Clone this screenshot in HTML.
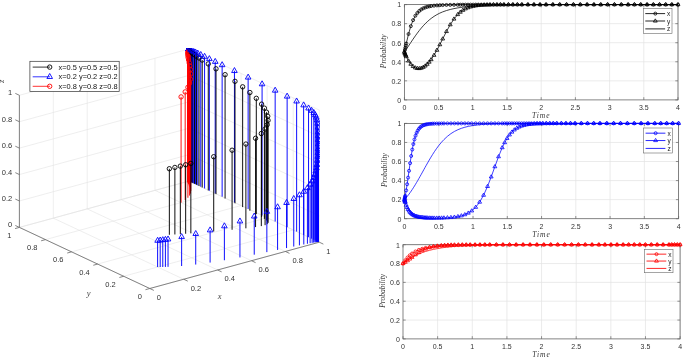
<!DOCTYPE html>
<html><head><meta charset="utf-8"><title>Figure</title>
<style>html,body{margin:0;padding:0;background:#fff;}body{width:685px;height:358px;overflow:hidden}</style>
</head><body>
<svg width="685" height="358" viewBox="0 0 685 358" style="display:block">
<line x1="149.8" y1="288.5" x2="19.4" y2="227.4" stroke="#e3e3e3" stroke-width="0.6" />
<line x1="149.8" y1="288.5" x2="319.3" y2="242.2" stroke="#e3e3e3" stroke-width="0.6" />
<line x1="19.4" y1="227.4" x2="19.4" y2="95.3" stroke="#e3e3e3" stroke-width="0.6" />
<line x1="19.4" y1="227.4" x2="188.9" y2="181.1" stroke="#e3e3e3" stroke-width="0.6" />
<line x1="319.3" y1="242.2" x2="319.3" y2="110.1" stroke="#e3e3e3" stroke-width="0.6" />
<line x1="319.3" y1="242.2" x2="188.9" y2="181.1" stroke="#e3e3e3" stroke-width="0.6" />
<line x1="183.7" y1="279.24" x2="53.3" y2="218.14" stroke="#e3e3e3" stroke-width="0.6" />
<line x1="123.72" y1="276.28" x2="293.22" y2="229.98" stroke="#e3e3e3" stroke-width="0.6" />
<line x1="53.3" y1="218.14" x2="53.3" y2="86.04" stroke="#e3e3e3" stroke-width="0.6" />
<line x1="19.4" y1="200.98" x2="188.9" y2="154.68" stroke="#e3e3e3" stroke-width="0.6" />
<line x1="293.22" y1="229.98" x2="293.22" y2="97.88" stroke="#e3e3e3" stroke-width="0.6" />
<line x1="319.3" y1="215.78" x2="188.9" y2="154.68" stroke="#e3e3e3" stroke-width="0.6" />
<line x1="217.6" y1="269.98" x2="87.2" y2="208.88" stroke="#e3e3e3" stroke-width="0.6" />
<line x1="97.64" y1="264.06" x2="267.14" y2="217.76" stroke="#e3e3e3" stroke-width="0.6" />
<line x1="87.2" y1="208.88" x2="87.2" y2="76.78" stroke="#e3e3e3" stroke-width="0.6" />
<line x1="19.4" y1="174.56" x2="188.9" y2="128.26" stroke="#e3e3e3" stroke-width="0.6" />
<line x1="267.14" y1="217.76" x2="267.14" y2="85.66" stroke="#e3e3e3" stroke-width="0.6" />
<line x1="319.3" y1="189.36" x2="188.9" y2="128.26" stroke="#e3e3e3" stroke-width="0.6" />
<line x1="251.5" y1="260.72" x2="121.1" y2="199.62" stroke="#e3e3e3" stroke-width="0.6" />
<line x1="71.56" y1="251.84" x2="241.06" y2="205.54" stroke="#e3e3e3" stroke-width="0.6" />
<line x1="121.1" y1="199.62" x2="121.1" y2="67.52" stroke="#e3e3e3" stroke-width="0.6" />
<line x1="19.4" y1="148.14" x2="188.9" y2="101.84" stroke="#e3e3e3" stroke-width="0.6" />
<line x1="241.06" y1="205.54" x2="241.06" y2="73.44" stroke="#e3e3e3" stroke-width="0.6" />
<line x1="319.3" y1="162.94" x2="188.9" y2="101.84" stroke="#e3e3e3" stroke-width="0.6" />
<line x1="285.4" y1="251.46" x2="155" y2="190.36" stroke="#e3e3e3" stroke-width="0.6" />
<line x1="45.48" y1="239.62" x2="214.98" y2="193.32" stroke="#e3e3e3" stroke-width="0.6" />
<line x1="155" y1="190.36" x2="155" y2="58.26" stroke="#e3e3e3" stroke-width="0.6" />
<line x1="19.4" y1="121.72" x2="188.9" y2="75.42" stroke="#e3e3e3" stroke-width="0.6" />
<line x1="214.98" y1="193.32" x2="214.98" y2="61.22" stroke="#e3e3e3" stroke-width="0.6" />
<line x1="319.3" y1="136.52" x2="188.9" y2="75.42" stroke="#e3e3e3" stroke-width="0.6" />
<line x1="319.3" y1="242.2" x2="188.9" y2="181.1" stroke="#e3e3e3" stroke-width="0.6" />
<line x1="19.4" y1="227.4" x2="188.9" y2="181.1" stroke="#e3e3e3" stroke-width="0.6" />
<line x1="188.9" y1="181.1" x2="188.9" y2="49" stroke="#e3e3e3" stroke-width="0.6" />
<line x1="19.4" y1="95.3" x2="188.9" y2="49" stroke="#e3e3e3" stroke-width="0.6" />
<line x1="188.9" y1="181.1" x2="188.9" y2="49" stroke="#e3e3e3" stroke-width="0.6" />
<line x1="319.3" y1="110.1" x2="188.9" y2="49" stroke="#e3e3e3" stroke-width="0.6" />
<clipPath id="c3"><rect x="19" y="48.5" width="301" height="242"/></clipPath><g clip-path="url(#c3)">
<line x1="188.3" y1="181.37" x2="188.3" y2="51.29" stroke="#ff0000" stroke-width="0.95" />
<circle cx="188.3" cy="51.29" r="2.2" fill="none" stroke="#ff0000" stroke-width="0.9"/>
<line x1="188.39" y1="181.3" x2="188.39" y2="50.87" stroke="#ff0000" stroke-width="0.95" />
<circle cx="188.39" cy="50.87" r="2.2" fill="none" stroke="#ff0000" stroke-width="0.9"/>
<line x1="188.49" y1="181.25" x2="188.49" y2="50.54" stroke="#ff0000" stroke-width="0.95" />
<circle cx="188.49" cy="50.54" r="2.2" fill="none" stroke="#ff0000" stroke-width="0.9"/>
<line x1="188.56" y1="181.22" x2="188.56" y2="50.27" stroke="#ff0000" stroke-width="0.95" />
<circle cx="188.56" cy="50.27" r="2.2" fill="none" stroke="#ff0000" stroke-width="0.9"/>
<line x1="188.63" y1="181.19" x2="188.63" y2="49.99" stroke="#ff0000" stroke-width="0.95" />
<circle cx="188.63" cy="49.99" r="2.2" fill="none" stroke="#ff0000" stroke-width="0.9"/>
<line x1="188.69" y1="181.16" x2="188.69" y2="49.77" stroke="#ff0000" stroke-width="0.95" />
<circle cx="188.69" cy="49.77" r="2.2" fill="none" stroke="#ff0000" stroke-width="0.9"/>
<line x1="188.74" y1="181.15" x2="188.74" y2="49.61" stroke="#ff0000" stroke-width="0.95" />
<circle cx="188.74" cy="49.61" r="2.2" fill="none" stroke="#ff0000" stroke-width="0.9"/>
<line x1="188.79" y1="181.14" x2="188.79" y2="49.48" stroke="#ff0000" stroke-width="0.95" />
<circle cx="188.79" cy="49.48" r="2.2" fill="none" stroke="#ff0000" stroke-width="0.9"/>
<line x1="188.81" y1="181.12" x2="188.81" y2="49.34" stroke="#ff0000" stroke-width="0.95" />
<circle cx="188.81" cy="49.34" r="2.2" fill="none" stroke="#ff0000" stroke-width="0.9"/>
<line x1="188.83" y1="181.11" x2="188.83" y2="49.24" stroke="#ff0000" stroke-width="0.95" />
<circle cx="188.83" cy="49.24" r="2.2" fill="none" stroke="#ff0000" stroke-width="0.9"/>
<line x1="188.86" y1="181.11" x2="188.86" y2="49.18" stroke="#ff0000" stroke-width="0.95" />
<circle cx="188.86" cy="49.18" r="2.2" fill="none" stroke="#ff0000" stroke-width="0.9"/>
<line x1="188.88" y1="181.11" x2="188.88" y2="49.14" stroke="#ff0000" stroke-width="0.95" />
<circle cx="188.88" cy="49.14" r="2.2" fill="none" stroke="#ff0000" stroke-width="0.9"/>
<line x1="188.87" y1="181.1" x2="188.87" y2="49.09" stroke="#ff0000" stroke-width="0.95" />
<circle cx="188.87" cy="49.09" r="2.2" fill="none" stroke="#ff0000" stroke-width="0.9"/>
<line x1="188.87" y1="181.1" x2="188.87" y2="49.06" stroke="#ff0000" stroke-width="0.95" />
<circle cx="188.87" cy="49.06" r="2.2" fill="none" stroke="#ff0000" stroke-width="0.9"/>
<line x1="188.9" y1="181.11" x2="188.9" y2="49.05" stroke="#ff0000" stroke-width="0.95" />
<circle cx="188.9" cy="49.05" r="2.2" fill="none" stroke="#ff0000" stroke-width="0.9"/>
<line x1="188.92" y1="181.11" x2="188.92" y2="49.05" stroke="#ff0000" stroke-width="0.95" />
<circle cx="188.92" cy="49.05" r="2.2" fill="none" stroke="#ff0000" stroke-width="0.9"/>
<line x1="188.88" y1="181.09" x2="188.88" y2="49.02" stroke="#ff0000" stroke-width="0.95" />
<circle cx="188.88" cy="49.02" r="2.2" fill="none" stroke="#ff0000" stroke-width="0.9"/>
<line x1="188.87" y1="181.09" x2="188.87" y2="49" stroke="#ff0000" stroke-width="0.95" />
<circle cx="188.87" cy="49" r="2.2" fill="none" stroke="#ff0000" stroke-width="0.9"/>
<line x1="188.91" y1="181.11" x2="188.91" y2="49.02" stroke="#ff0000" stroke-width="0.95" />
<circle cx="188.91" cy="49.02" r="2.2" fill="none" stroke="#ff0000" stroke-width="0.9"/>
<line x1="188.94" y1="181.12" x2="188.94" y2="49.03" stroke="#ff0000" stroke-width="0.95" />
<circle cx="188.94" cy="49.03" r="2.2" fill="none" stroke="#ff0000" stroke-width="0.9"/>
<line x1="188.87" y1="181.09" x2="188.87" y2="48.99" stroke="#ff0000" stroke-width="0.95" />
<circle cx="188.87" cy="48.99" r="2.2" fill="none" stroke="#ff0000" stroke-width="0.9"/>
<line x1="188.85" y1="181.08" x2="188.85" y2="48.98" stroke="#ff0000" stroke-width="0.95" />
<circle cx="188.85" cy="48.98" r="2.2" fill="none" stroke="#ff0000" stroke-width="0.9"/>
<line x1="188.93" y1="181.11" x2="188.93" y2="49.02" stroke="#ff0000" stroke-width="0.95" />
<circle cx="188.93" cy="49.02" r="2.2" fill="none" stroke="#ff0000" stroke-width="0.9"/>
<line x1="188.97" y1="181.13" x2="188.97" y2="49.04" stroke="#ff0000" stroke-width="0.95" />
<circle cx="188.97" cy="49.04" r="2.2" fill="none" stroke="#ff0000" stroke-width="0.9"/>
<line x1="188.89" y1="181.1" x2="188.89" y2="49" stroke="#ff0000" stroke-width="0.95" />
<circle cx="188.89" cy="49" r="2.2" fill="none" stroke="#ff0000" stroke-width="0.9"/>
<line x1="188.87" y1="181.09" x2="188.87" y2="48.99" stroke="#ff0000" stroke-width="0.95" />
<circle cx="188.87" cy="48.99" r="2.2" fill="none" stroke="#ff0000" stroke-width="0.9"/>
<line x1="188.92" y1="181.11" x2="188.92" y2="49.01" stroke="#ff0000" stroke-width="0.95" />
<circle cx="188.92" cy="49.01" r="2.2" fill="none" stroke="#ff0000" stroke-width="0.9"/>
<line x1="188.96" y1="181.13" x2="188.96" y2="49.03" stroke="#ff0000" stroke-width="0.95" />
<circle cx="188.96" cy="49.03" r="2.2" fill="none" stroke="#ff0000" stroke-width="0.9"/>
<line x1="188.91" y1="181.1" x2="188.91" y2="49.01" stroke="#ff0000" stroke-width="0.95" />
<circle cx="188.91" cy="49.01" r="2.2" fill="none" stroke="#ff0000" stroke-width="0.9"/>
<line x1="188.89" y1="181.1" x2="188.89" y2="49" stroke="#ff0000" stroke-width="0.95" />
<circle cx="188.89" cy="49" r="2.2" fill="none" stroke="#ff0000" stroke-width="0.9"/>
<line x1="188.91" y1="181.11" x2="188.91" y2="49.01" stroke="#ff0000" stroke-width="0.95" />
<circle cx="188.91" cy="49.01" r="2.2" fill="none" stroke="#ff0000" stroke-width="0.9"/>
<line x1="188.93" y1="181.11" x2="188.93" y2="49.01" stroke="#ff0000" stroke-width="0.95" />
<circle cx="188.93" cy="49.01" r="2.2" fill="none" stroke="#ff0000" stroke-width="0.9"/>
<line x1="188.9" y1="181.1" x2="188.9" y2="49" stroke="#ff0000" stroke-width="0.95" />
<circle cx="188.9" cy="49" r="2.2" fill="none" stroke="#ff0000" stroke-width="0.9"/>
<line x1="188.89" y1="181.1" x2="188.89" y2="49" stroke="#ff0000" stroke-width="0.95" />
<circle cx="188.89" cy="49" r="2.2" fill="none" stroke="#ff0000" stroke-width="0.9"/>
<line x1="188.91" y1="181.1" x2="188.91" y2="49" stroke="#ff0000" stroke-width="0.95" />
<circle cx="188.91" cy="49" r="2.2" fill="none" stroke="#ff0000" stroke-width="0.9"/>
<line x1="188.92" y1="181.11" x2="188.92" y2="49.01" stroke="#ff0000" stroke-width="0.95" />
<circle cx="188.92" cy="49.01" r="2.2" fill="none" stroke="#ff0000" stroke-width="0.9"/>
<line x1="188.91" y1="181.11" x2="188.91" y2="49.01" stroke="#ff0000" stroke-width="0.95" />
<circle cx="188.91" cy="49.01" r="2.2" fill="none" stroke="#ff0000" stroke-width="0.9"/>
<line x1="188.91" y1="181.1" x2="188.91" y2="49" stroke="#ff0000" stroke-width="0.95" />
<circle cx="188.91" cy="49" r="2.2" fill="none" stroke="#ff0000" stroke-width="0.9"/>
<line x1="188.91" y1="181.1" x2="188.91" y2="49" stroke="#ff0000" stroke-width="0.95" />
<circle cx="188.91" cy="49" r="2.2" fill="none" stroke="#ff0000" stroke-width="0.9"/>
<line x1="188.9" y1="181.1" x2="188.9" y2="49" stroke="#ff0000" stroke-width="0.95" />
<circle cx="188.9" cy="49" r="2.2" fill="none" stroke="#ff0000" stroke-width="0.9"/>
<line x1="189.41" y1="181.38" x2="189.41" y2="50.53" stroke="#000000" stroke-width="0.95" />
<circle cx="189.41" cy="50.53" r="2.2" fill="none" stroke="#000000" stroke-width="0.9"/>
<line x1="189.25" y1="181.3" x2="189.25" y2="50.29" stroke="#000000" stroke-width="0.95" />
<circle cx="189.25" cy="50.29" r="2.2" fill="none" stroke="#000000" stroke-width="0.9"/>
<line x1="189.14" y1="181.24" x2="189.14" y2="50.08" stroke="#000000" stroke-width="0.95" />
<circle cx="189.14" cy="50.08" r="2.2" fill="none" stroke="#000000" stroke-width="0.9"/>
<line x1="189.04" y1="181.19" x2="189.04" y2="49.88" stroke="#000000" stroke-width="0.95" />
<circle cx="189.04" cy="49.88" r="2.2" fill="none" stroke="#000000" stroke-width="0.9"/>
<line x1="188.98" y1="181.16" x2="188.98" y2="49.73" stroke="#000000" stroke-width="0.95" />
<circle cx="188.98" cy="49.73" r="2.2" fill="none" stroke="#000000" stroke-width="0.9"/>
<line x1="188.95" y1="181.14" x2="188.95" y2="49.6" stroke="#000000" stroke-width="0.95" />
<circle cx="188.95" cy="49.6" r="2.2" fill="none" stroke="#000000" stroke-width="0.9"/>
<line x1="188.93" y1="181.13" x2="188.93" y2="49.5" stroke="#000000" stroke-width="0.95" />
<circle cx="188.93" cy="49.5" r="2.2" fill="none" stroke="#000000" stroke-width="0.9"/>
<line x1="188.91" y1="181.11" x2="188.91" y2="49.4" stroke="#000000" stroke-width="0.95" />
<circle cx="188.91" cy="49.4" r="2.2" fill="none" stroke="#000000" stroke-width="0.9"/>
<line x1="188.9" y1="181.11" x2="188.9" y2="49.31" stroke="#000000" stroke-width="0.95" />
<circle cx="188.9" cy="49.31" r="2.2" fill="none" stroke="#000000" stroke-width="0.9"/>
<line x1="188.9" y1="181.11" x2="188.9" y2="49.25" stroke="#000000" stroke-width="0.95" />
<circle cx="188.9" cy="49.25" r="2.2" fill="none" stroke="#000000" stroke-width="0.9"/>
<line x1="188.9" y1="181.11" x2="188.9" y2="49.2" stroke="#000000" stroke-width="0.95" />
<circle cx="188.9" cy="49.2" r="2.2" fill="none" stroke="#000000" stroke-width="0.9"/>
<line x1="188.89" y1="181.1" x2="188.89" y2="49.15" stroke="#000000" stroke-width="0.95" />
<circle cx="188.89" cy="49.15" r="2.2" fill="none" stroke="#000000" stroke-width="0.9"/>
<line x1="188.89" y1="181.1" x2="188.89" y2="49.11" stroke="#000000" stroke-width="0.95" />
<circle cx="188.89" cy="49.11" r="2.2" fill="none" stroke="#000000" stroke-width="0.9"/>
<line x1="188.9" y1="181.1" x2="188.9" y2="49.08" stroke="#000000" stroke-width="0.95" />
<circle cx="188.9" cy="49.08" r="2.2" fill="none" stroke="#000000" stroke-width="0.9"/>
<line x1="188.91" y1="181.1" x2="188.91" y2="49.06" stroke="#000000" stroke-width="0.95" />
<circle cx="188.91" cy="49.06" r="2.2" fill="none" stroke="#000000" stroke-width="0.9"/>
<line x1="188.89" y1="181.1" x2="188.89" y2="49.04" stroke="#000000" stroke-width="0.95" />
<circle cx="188.89" cy="49.04" r="2.2" fill="none" stroke="#000000" stroke-width="0.9"/>
<line x1="188.89" y1="181.1" x2="188.89" y2="49.03" stroke="#000000" stroke-width="0.95" />
<circle cx="188.89" cy="49.03" r="2.2" fill="none" stroke="#000000" stroke-width="0.9"/>
<line x1="188.91" y1="181.1" x2="188.91" y2="49.02" stroke="#000000" stroke-width="0.95" />
<circle cx="188.91" cy="49.02" r="2.2" fill="none" stroke="#000000" stroke-width="0.9"/>
<line x1="188.91" y1="181.11" x2="188.91" y2="49.02" stroke="#000000" stroke-width="0.95" />
<circle cx="188.91" cy="49.02" r="2.2" fill="none" stroke="#000000" stroke-width="0.9"/>
<line x1="188.89" y1="181.09" x2="188.89" y2="49.01" stroke="#000000" stroke-width="0.95" />
<circle cx="188.89" cy="49.01" r="2.2" fill="none" stroke="#000000" stroke-width="0.9"/>
<line x1="188.88" y1="181.09" x2="188.88" y2="49" stroke="#000000" stroke-width="0.95" />
<circle cx="188.88" cy="49" r="2.2" fill="none" stroke="#000000" stroke-width="0.9"/>
<line x1="188.91" y1="181.11" x2="188.91" y2="49.01" stroke="#000000" stroke-width="0.95" />
<circle cx="188.91" cy="49.01" r="2.2" fill="none" stroke="#000000" stroke-width="0.9"/>
<line x1="188.93" y1="181.11" x2="188.93" y2="49.02" stroke="#000000" stroke-width="0.95" />
<circle cx="188.93" cy="49.02" r="2.2" fill="none" stroke="#000000" stroke-width="0.9"/>
<line x1="188.88" y1="181.09" x2="188.88" y2="48.99" stroke="#000000" stroke-width="0.95" />
<circle cx="188.88" cy="48.99" r="2.2" fill="none" stroke="#000000" stroke-width="0.9"/>
<line x1="188.86" y1="181.08" x2="188.86" y2="48.99" stroke="#000000" stroke-width="0.95" />
<circle cx="188.86" cy="48.99" r="2.2" fill="none" stroke="#000000" stroke-width="0.9"/>
<line x1="188.92" y1="181.11" x2="188.92" y2="49.01" stroke="#000000" stroke-width="0.95" />
<circle cx="188.92" cy="49.01" r="2.2" fill="none" stroke="#000000" stroke-width="0.9"/>
<line x1="188.95" y1="181.12" x2="188.95" y2="49.02" stroke="#000000" stroke-width="0.95" />
<circle cx="188.95" cy="49.02" r="2.2" fill="none" stroke="#000000" stroke-width="0.9"/>
<line x1="188.89" y1="181.09" x2="188.89" y2="48.99" stroke="#000000" stroke-width="0.95" />
<circle cx="188.89" cy="48.99" r="2.2" fill="none" stroke="#000000" stroke-width="0.9"/>
<line x1="188.86" y1="181.08" x2="188.86" y2="48.98" stroke="#000000" stroke-width="0.95" />
<circle cx="188.86" cy="48.98" r="2.2" fill="none" stroke="#000000" stroke-width="0.9"/>
<line x1="188.92" y1="181.11" x2="188.92" y2="49.01" stroke="#000000" stroke-width="0.95" />
<circle cx="188.92" cy="49.01" r="2.2" fill="none" stroke="#000000" stroke-width="0.9"/>
<line x1="188.96" y1="181.13" x2="188.96" y2="49.03" stroke="#000000" stroke-width="0.95" />
<circle cx="188.96" cy="49.03" r="2.2" fill="none" stroke="#000000" stroke-width="0.9"/>
<line x1="188.89" y1="181.1" x2="188.89" y2="49" stroke="#000000" stroke-width="0.95" />
<circle cx="188.89" cy="49" r="2.2" fill="none" stroke="#000000" stroke-width="0.9"/>
<line x1="188.87" y1="181.08" x2="188.87" y2="48.99" stroke="#000000" stroke-width="0.95" />
<circle cx="188.87" cy="48.99" r="2.2" fill="none" stroke="#000000" stroke-width="0.9"/>
<line x1="188.92" y1="181.11" x2="188.92" y2="49.01" stroke="#000000" stroke-width="0.95" />
<circle cx="188.92" cy="49.01" r="2.2" fill="none" stroke="#000000" stroke-width="0.9"/>
<line x1="188.95" y1="181.13" x2="188.95" y2="49.03" stroke="#000000" stroke-width="0.95" />
<circle cx="188.95" cy="49.03" r="2.2" fill="none" stroke="#000000" stroke-width="0.9"/>
<line x1="189.37" y1="181.32" x2="189.37" y2="49.3" stroke="#0000ff" stroke-width="0.95" />
<polygon points="189.37,45.96 186.57,50.96 192.17,50.96" fill="none" stroke="#0000ff" stroke-width="0.9" stroke-linejoin="miter"/>
<line x1="189.23" y1="181.25" x2="189.23" y2="49.22" stroke="#0000ff" stroke-width="0.95" />
<polygon points="189.23,45.89 186.43,50.89 192.03,50.89" fill="none" stroke="#0000ff" stroke-width="0.9" stroke-linejoin="miter"/>
<line x1="189.13" y1="181.21" x2="189.13" y2="49.16" stroke="#0000ff" stroke-width="0.95" />
<polygon points="189.13,45.83 186.33,50.83 191.93,50.83" fill="none" stroke="#0000ff" stroke-width="0.9" stroke-linejoin="miter"/>
<line x1="189.04" y1="181.17" x2="189.04" y2="49.11" stroke="#0000ff" stroke-width="0.95" />
<polygon points="189.04,45.78 186.24,50.78 191.84,50.78" fill="none" stroke="#0000ff" stroke-width="0.9" stroke-linejoin="miter"/>
<line x1="188.99" y1="181.14" x2="188.99" y2="49.08" stroke="#0000ff" stroke-width="0.95" />
<polygon points="188.99,45.75 186.19,50.75 191.79,50.75" fill="none" stroke="#0000ff" stroke-width="0.9" stroke-linejoin="miter"/>
<line x1="188.96" y1="181.13" x2="188.96" y2="49.06" stroke="#0000ff" stroke-width="0.95" />
<polygon points="188.96,45.73 186.16,50.73 191.76,50.73" fill="none" stroke="#0000ff" stroke-width="0.9" stroke-linejoin="miter"/>
<line x1="188.94" y1="181.12" x2="188.94" y2="49.05" stroke="#0000ff" stroke-width="0.95" />
<polygon points="188.94,45.71 186.14,50.71 191.74,50.71" fill="none" stroke="#0000ff" stroke-width="0.9" stroke-linejoin="miter"/>
<line x1="188.92" y1="181.11" x2="188.92" y2="49.03" stroke="#0000ff" stroke-width="0.95" />
<polygon points="188.92,45.7 186.12,50.7 191.72,50.7" fill="none" stroke="#0000ff" stroke-width="0.9" stroke-linejoin="miter"/>
<line x1="188.91" y1="181.1" x2="188.91" y2="49.02" stroke="#0000ff" stroke-width="0.95" />
<polygon points="188.91,45.69 186.11,50.69 191.71,50.69" fill="none" stroke="#0000ff" stroke-width="0.9" stroke-linejoin="miter"/>
<line x1="188.91" y1="181.1" x2="188.91" y2="49.02" stroke="#0000ff" stroke-width="0.95" />
<polygon points="188.91,45.68 186.11,50.68 191.71,50.68" fill="none" stroke="#0000ff" stroke-width="0.9" stroke-linejoin="miter"/>
<line x1="188.91" y1="181.1" x2="188.91" y2="49.02" stroke="#0000ff" stroke-width="0.95" />
<polygon points="188.91,45.68 186.11,50.68 191.71,50.68" fill="none" stroke="#0000ff" stroke-width="0.9" stroke-linejoin="miter"/>
<line x1="188.9" y1="181.1" x2="188.9" y2="49.01" stroke="#0000ff" stroke-width="0.95" />
<polygon points="188.9,45.67 186.1,50.67 191.7,50.67" fill="none" stroke="#0000ff" stroke-width="0.9" stroke-linejoin="miter"/>
<line x1="188.89" y1="181.1" x2="188.89" y2="49" stroke="#0000ff" stroke-width="0.95" />
<polygon points="188.89,45.67 186.09,50.67 191.69,50.67" fill="none" stroke="#0000ff" stroke-width="0.9" stroke-linejoin="miter"/>
<line x1="188.9" y1="181.1" x2="188.9" y2="49.01" stroke="#0000ff" stroke-width="0.95" />
<polygon points="188.9,45.67 186.1,50.67 191.7,50.67" fill="none" stroke="#0000ff" stroke-width="0.9" stroke-linejoin="miter"/>
<line x1="188.91" y1="181.1" x2="188.91" y2="49.01" stroke="#0000ff" stroke-width="0.95" />
<polygon points="188.91,45.67 186.11,50.67 191.71,50.67" fill="none" stroke="#0000ff" stroke-width="0.9" stroke-linejoin="miter"/>
<line x1="188.89" y1="181.1" x2="188.89" y2="49" stroke="#0000ff" stroke-width="0.95" />
<polygon points="188.89,45.67 186.09,50.67 191.69,50.67" fill="none" stroke="#0000ff" stroke-width="0.9" stroke-linejoin="miter"/>
<line x1="188.89" y1="181.09" x2="188.89" y2="49" stroke="#0000ff" stroke-width="0.95" />
<polygon points="188.89,45.66 186.09,50.66 191.69,50.66" fill="none" stroke="#0000ff" stroke-width="0.9" stroke-linejoin="miter"/>
<line x1="188.91" y1="181.1" x2="188.91" y2="49" stroke="#0000ff" stroke-width="0.95" />
<polygon points="188.91,45.67 186.11,50.67 191.71,50.67" fill="none" stroke="#0000ff" stroke-width="0.9" stroke-linejoin="miter"/>
<line x1="188.92" y1="181.11" x2="188.92" y2="49.01" stroke="#0000ff" stroke-width="0.95" />
<polygon points="188.92,45.68 186.12,50.68 191.72,50.68" fill="none" stroke="#0000ff" stroke-width="0.9" stroke-linejoin="miter"/>
<line x1="188.89" y1="181.09" x2="188.89" y2="48.99" stroke="#0000ff" stroke-width="0.95" />
<polygon points="188.89,45.66 186.09,50.66 191.69,50.66" fill="none" stroke="#0000ff" stroke-width="0.9" stroke-linejoin="miter"/>
<line x1="188.88" y1="181.09" x2="188.88" y2="48.99" stroke="#0000ff" stroke-width="0.95" />
<polygon points="188.88,45.66 186.08,50.66 191.68,50.66" fill="none" stroke="#0000ff" stroke-width="0.9" stroke-linejoin="miter"/>
<line x1="188.91" y1="181.11" x2="188.91" y2="49.01" stroke="#0000ff" stroke-width="0.95" />
<polygon points="188.91,45.67 186.11,50.67 191.71,50.67" fill="none" stroke="#0000ff" stroke-width="0.9" stroke-linejoin="miter"/>
<line x1="188.93" y1="181.11" x2="188.93" y2="49.01" stroke="#0000ff" stroke-width="0.95" />
<polygon points="188.93,45.68 186.13,50.68 191.73,50.68" fill="none" stroke="#0000ff" stroke-width="0.9" stroke-linejoin="miter"/>
<line x1="188.9" y1="181.1" x2="188.9" y2="49" stroke="#0000ff" stroke-width="0.95" />
<polygon points="188.9,45.67 186.1,50.67 191.7,50.67" fill="none" stroke="#0000ff" stroke-width="0.9" stroke-linejoin="miter"/>
<line x1="188.89" y1="181.09" x2="188.89" y2="48.99" stroke="#0000ff" stroke-width="0.95" />
<polygon points="188.89,45.66 186.09,50.66 191.69,50.66" fill="none" stroke="#0000ff" stroke-width="0.9" stroke-linejoin="miter"/>
<line x1="188.91" y1="181.1" x2="188.91" y2="49" stroke="#0000ff" stroke-width="0.95" />
<polygon points="188.91,45.67 186.11,50.67 191.71,50.67" fill="none" stroke="#0000ff" stroke-width="0.9" stroke-linejoin="miter"/>
<line x1="188.92" y1="181.11" x2="188.92" y2="49.01" stroke="#0000ff" stroke-width="0.95" />
<polygon points="188.92,45.68 186.12,50.68 191.72,50.68" fill="none" stroke="#0000ff" stroke-width="0.9" stroke-linejoin="miter"/>
<line x1="189.59" y1="181.42" x2="189.59" y2="49.41" stroke="#0000ff" stroke-width="0.95" />
<polygon points="189.59,46.08 186.79,51.08 192.39,51.08" fill="none" stroke="#0000ff" stroke-width="0.9" stroke-linejoin="miter"/>
<line x1="188.21" y1="181.47" x2="188.21" y2="51.81" stroke="#ff0000" stroke-width="0.95" />
<circle cx="188.21" cy="51.81" r="2.2" fill="none" stroke="#ff0000" stroke-width="0.9"/>
<line x1="189.66" y1="181.51" x2="189.66" y2="50.85" stroke="#000000" stroke-width="0.95" />
<circle cx="189.66" cy="50.85" r="2.2" fill="none" stroke="#000000" stroke-width="0.9"/>
<line x1="189.91" y1="181.57" x2="189.91" y2="49.57" stroke="#0000ff" stroke-width="0.95" />
<polygon points="189.91,46.24 187.11,51.24 192.71,51.24" fill="none" stroke="#0000ff" stroke-width="0.9" stroke-linejoin="miter"/>
<line x1="188.12" y1="181.57" x2="188.12" y2="52.33" stroke="#ff0000" stroke-width="0.95" />
<circle cx="188.12" cy="52.33" r="2.2" fill="none" stroke="#ff0000" stroke-width="0.9"/>
<line x1="190.03" y1="181.69" x2="190.03" y2="51.25" stroke="#000000" stroke-width="0.95" />
<circle cx="190.03" cy="51.25" r="2.2" fill="none" stroke="#000000" stroke-width="0.9"/>
<line x1="188.04" y1="181.72" x2="188.04" y2="52.95" stroke="#ff0000" stroke-width="0.95" />
<circle cx="188.04" cy="52.95" r="2.2" fill="none" stroke="#ff0000" stroke-width="0.9"/>
<line x1="190.28" y1="181.75" x2="190.28" y2="49.76" stroke="#0000ff" stroke-width="0.95" />
<polygon points="190.28,46.42 187.48,51.42 193.08,51.42" fill="none" stroke="#0000ff" stroke-width="0.9" stroke-linejoin="miter"/>
<line x1="190.47" y1="181.9" x2="190.47" y2="51.69" stroke="#000000" stroke-width="0.95" />
<circle cx="190.47" cy="51.69" r="2.2" fill="none" stroke="#000000" stroke-width="0.9"/>
<line x1="187.99" y1="181.92" x2="187.99" y2="53.72" stroke="#ff0000" stroke-width="0.95" />
<circle cx="187.99" cy="53.72" r="2.2" fill="none" stroke="#ff0000" stroke-width="0.9"/>
<line x1="190.8" y1="181.99" x2="190.8" y2="50.01" stroke="#0000ff" stroke-width="0.95" />
<polygon points="190.8,46.68 188,51.68 193.6,51.68" fill="none" stroke="#0000ff" stroke-width="0.9" stroke-linejoin="miter"/>
<line x1="191.07" y1="182.2" x2="191.07" y2="52.24" stroke="#000000" stroke-width="0.95" />
<circle cx="191.07" cy="52.24" r="2.2" fill="none" stroke="#000000" stroke-width="0.9"/>
<line x1="187.98" y1="182.2" x2="187.98" y2="54.66" stroke="#ff0000" stroke-width="0.95" />
<circle cx="187.98" cy="54.66" r="2.2" fill="none" stroke="#ff0000" stroke-width="0.9"/>
<line x1="191.51" y1="182.32" x2="191.51" y2="50.36" stroke="#0000ff" stroke-width="0.95" />
<polygon points="191.51,47.03 188.71,52.03 194.31,52.03" fill="none" stroke="#0000ff" stroke-width="0.9" stroke-linejoin="miter"/>
<line x1="191.91" y1="182.6" x2="191.91" y2="52.93" stroke="#000000" stroke-width="0.95" />
<circle cx="191.91" cy="52.93" r="2.2" fill="none" stroke="#000000" stroke-width="0.9"/>
<line x1="188.01" y1="182.63" x2="188.01" y2="56.01" stroke="#ff0000" stroke-width="0.95" />
<circle cx="188.01" cy="56.01" r="2.2" fill="none" stroke="#ff0000" stroke-width="0.9"/>
<line x1="192.48" y1="182.78" x2="192.48" y2="50.84" stroke="#0000ff" stroke-width="0.95" />
<polygon points="192.48,47.51 189.68,52.51 195.28,52.51" fill="none" stroke="#0000ff" stroke-width="0.9" stroke-linejoin="miter"/>
<line x1="193.03" y1="183.14" x2="193.03" y2="53.81" stroke="#000000" stroke-width="0.95" />
<circle cx="193.03" cy="53.81" r="2.2" fill="none" stroke="#000000" stroke-width="0.9"/>
<line x1="188.18" y1="183.26" x2="188.18" y2="57.74" stroke="#ff0000" stroke-width="0.95" />
<circle cx="188.18" cy="57.74" r="2.2" fill="none" stroke="#ff0000" stroke-width="0.9"/>
<line x1="193.77" y1="183.38" x2="193.77" y2="51.46" stroke="#0000ff" stroke-width="0.95" />
<polygon points="193.77,48.13 190.97,53.13 196.57,53.13" fill="none" stroke="#0000ff" stroke-width="0.9" stroke-linejoin="miter"/>
<line x1="194.51" y1="183.86" x2="194.51" y2="54.89" stroke="#000000" stroke-width="0.95" />
<circle cx="194.51" cy="54.89" r="2.2" fill="none" stroke="#000000" stroke-width="0.9"/>
<line x1="195.49" y1="184.19" x2="195.49" y2="52.29" stroke="#0000ff" stroke-width="0.95" />
<polygon points="195.49,48.96 192.69,53.96 198.29,53.96" fill="none" stroke="#0000ff" stroke-width="0.9" stroke-linejoin="miter"/>
<line x1="188.57" y1="184.19" x2="188.57" y2="59.99" stroke="#ff0000" stroke-width="0.95" />
<circle cx="188.57" cy="59.99" r="2.2" fill="none" stroke="#ff0000" stroke-width="0.9"/>
<line x1="196.47" y1="184.8" x2="196.47" y2="56.26" stroke="#000000" stroke-width="0.95" />
<circle cx="196.47" cy="56.26" r="2.2" fill="none" stroke="#000000" stroke-width="0.9"/>
<line x1="197.79" y1="185.26" x2="197.79" y2="53.39" stroke="#0000ff" stroke-width="0.95" />
<polygon points="197.79,50.06 194.99,55.06 200.59,55.06" fill="none" stroke="#0000ff" stroke-width="0.9" stroke-linejoin="miter"/>
<line x1="189.17" y1="185.47" x2="189.17" y2="62.84" stroke="#ff0000" stroke-width="0.95" />
<circle cx="189.17" cy="62.84" r="2.2" fill="none" stroke="#ff0000" stroke-width="0.9"/>
<line x1="199" y1="186.01" x2="199" y2="57.96" stroke="#000000" stroke-width="0.95" />
<circle cx="199" cy="57.96" r="2.2" fill="none" stroke="#000000" stroke-width="0.9"/>
<line x1="200.77" y1="186.66" x2="200.77" y2="54.82" stroke="#0000ff" stroke-width="0.95" />
<polygon points="200.77,51.49 197.97,56.49 203.57,56.49" fill="none" stroke="#0000ff" stroke-width="0.9" stroke-linejoin="miter"/>
<line x1="189.79" y1="186.92" x2="189.79" y2="65.9" stroke="#ff0000" stroke-width="0.95" />
<circle cx="189.79" cy="65.9" r="2.2" fill="none" stroke="#ff0000" stroke-width="0.9"/>
<line x1="202.21" y1="187.54" x2="202.21" y2="60.05" stroke="#000000" stroke-width="0.95" />
<circle cx="202.21" cy="60.05" r="2.2" fill="none" stroke="#000000" stroke-width="0.9"/>
<line x1="204.59" y1="188.45" x2="204.59" y2="56.65" stroke="#0000ff" stroke-width="0.95" />
<polygon points="204.59,53.31 201.79,58.31 207.39,58.31" fill="none" stroke="#0000ff" stroke-width="0.9" stroke-linejoin="miter"/>
<line x1="190.41" y1="188.74" x2="190.41" y2="69.6" stroke="#ff0000" stroke-width="0.95" />
<circle cx="190.41" cy="69.6" r="2.2" fill="none" stroke="#ff0000" stroke-width="0.9"/>
<line x1="208.27" y1="190.44" x2="208.27" y2="63.91" stroke="#000000" stroke-width="0.95" />
<circle cx="208.27" cy="63.91" r="2.2" fill="none" stroke="#000000" stroke-width="0.9"/>
<line x1="209.37" y1="190.69" x2="209.37" y2="58.93" stroke="#0000ff" stroke-width="0.95" />
<polygon points="209.37,55.6 206.57,60.6 212.17,60.6" fill="none" stroke="#0000ff" stroke-width="0.9" stroke-linejoin="miter"/>
<line x1="190.77" y1="190.97" x2="190.77" y2="74.01" stroke="#ff0000" stroke-width="0.95" />
<circle cx="190.77" cy="74.01" r="2.2" fill="none" stroke="#ff0000" stroke-width="0.9"/>
<line x1="215.22" y1="193.43" x2="215.22" y2="61.72" stroke="#0000ff" stroke-width="0.95" />
<polygon points="215.22,58.38 212.42,63.38 218.02,63.38" fill="none" stroke="#0000ff" stroke-width="0.9" stroke-linejoin="miter"/>
<line x1="190.46" y1="193.6" x2="190.46" y2="79.18" stroke="#ff0000" stroke-width="0.95" />
<circle cx="190.46" cy="79.18" r="2.2" fill="none" stroke="#ff0000" stroke-width="0.9"/>
<line x1="216" y1="194.14" x2="216" y2="68.81" stroke="#000000" stroke-width="0.95" />
<circle cx="216" cy="68.81" r="2.2" fill="none" stroke="#000000" stroke-width="0.9"/>
<line x1="189.59" y1="195.59" x2="189.59" y2="83.06" stroke="#ff0000" stroke-width="0.95" />
<circle cx="189.59" cy="83.06" r="2.2" fill="none" stroke="#ff0000" stroke-width="0.9"/>
<line x1="222.14" y1="196.67" x2="222.14" y2="65.01" stroke="#0000ff" stroke-width="0.95" />
<polygon points="222.14,61.68 219.34,66.68 224.94,66.68" fill="none" stroke="#0000ff" stroke-width="0.9" stroke-linejoin="miter"/>
<line x1="187.92" y1="197.75" x2="187.92" y2="87.31" stroke="#ff0000" stroke-width="0.95" />
<circle cx="187.92" cy="87.31" r="2.2" fill="none" stroke="#ff0000" stroke-width="0.9"/>
<line x1="225.09" y1="198.52" x2="225.09" y2="74.67" stroke="#000000" stroke-width="0.95" />
<circle cx="225.09" cy="74.67" r="2.2" fill="none" stroke="#000000" stroke-width="0.9"/>
<line x1="185.18" y1="200.08" x2="185.18" y2="91.92" stroke="#ff0000" stroke-width="0.95" />
<circle cx="185.18" cy="91.92" r="2.2" fill="none" stroke="#ff0000" stroke-width="0.9"/>
<line x1="234.44" y1="202.44" x2="234.44" y2="70.88" stroke="#0000ff" stroke-width="0.95" />
<polygon points="234.44,67.54 231.64,72.54 237.24,72.54" fill="none" stroke="#0000ff" stroke-width="0.9" stroke-linejoin="miter"/>
<line x1="181.08" y1="202.58" x2="181.08" y2="96.9" stroke="#ff0000" stroke-width="0.95" />
<circle cx="181.08" cy="96.9" r="2.2" fill="none" stroke="#ff0000" stroke-width="0.9"/>
<line x1="234.99" y1="203.32" x2="234.99" y2="81.33" stroke="#000000" stroke-width="0.95" />
<circle cx="234.99" cy="81.33" r="2.2" fill="none" stroke="#000000" stroke-width="0.9"/>
<line x1="242.65" y1="207.09" x2="242.65" y2="86.84" stroke="#000000" stroke-width="0.95" />
<circle cx="242.65" cy="86.84" r="2.2" fill="none" stroke="#000000" stroke-width="0.9"/>
<line x1="248.13" y1="208.85" x2="248.13" y2="77.42" stroke="#0000ff" stroke-width="0.95" />
<polygon points="248.13,74.09 245.33,79.09 250.93,79.09" fill="none" stroke="#0000ff" stroke-width="0.9" stroke-linejoin="miter"/>
<line x1="249.88" y1="210.72" x2="249.88" y2="92.53" stroke="#000000" stroke-width="0.95" />
<circle cx="249.88" cy="92.53" r="2.2" fill="none" stroke="#000000" stroke-width="0.9"/>
<line x1="256.3" y1="214.08" x2="256.3" y2="98.32" stroke="#000000" stroke-width="0.95" />
<circle cx="256.3" cy="98.32" r="2.2" fill="none" stroke="#000000" stroke-width="0.9"/>
<line x1="262.08" y1="215.39" x2="262.08" y2="84.14" stroke="#0000ff" stroke-width="0.95" />
<polygon points="262.08,80.8 259.28,85.8 264.88,85.8" fill="none" stroke="#0000ff" stroke-width="0.9" stroke-linejoin="miter"/>
<line x1="261.58" y1="217.06" x2="261.58" y2="104.15" stroke="#000000" stroke-width="0.95" />
<circle cx="261.58" cy="104.15" r="2.2" fill="none" stroke="#000000" stroke-width="0.9"/>
<line x1="264.4" y1="218.85" x2="264.4" y2="108.15" stroke="#000000" stroke-width="0.95" />
<circle cx="264.4" cy="108.15" r="2.2" fill="none" stroke="#000000" stroke-width="0.9"/>
<line x1="266.48" y1="220.44" x2="266.48" y2="112.18" stroke="#000000" stroke-width="0.95" />
<circle cx="266.48" cy="112.18" r="2.2" fill="none" stroke="#000000" stroke-width="0.9"/>
<line x1="275.16" y1="221.52" x2="275.16" y2="90.49" stroke="#0000ff" stroke-width="0.95" />
<polygon points="275.16,87.16 272.36,92.16 277.96,92.16" fill="none" stroke="#0000ff" stroke-width="0.9" stroke-linejoin="miter"/>
<line x1="267.74" y1="221.84" x2="267.74" y2="116.25" stroke="#000000" stroke-width="0.95" />
<circle cx="267.74" cy="116.25" r="2.2" fill="none" stroke="#000000" stroke-width="0.9"/>
<line x1="268.04" y1="223.08" x2="268.04" y2="120.39" stroke="#000000" stroke-width="0.95" />
<circle cx="268.04" cy="120.39" r="2.2" fill="none" stroke="#000000" stroke-width="0.9"/>
<line x1="267.23" y1="224.17" x2="267.23" y2="124.63" stroke="#000000" stroke-width="0.95" />
<circle cx="267.23" cy="124.63" r="2.2" fill="none" stroke="#000000" stroke-width="0.9"/>
<line x1="265.09" y1="225.17" x2="265.09" y2="129" stroke="#000000" stroke-width="0.95" />
<circle cx="265.09" cy="129" r="2.2" fill="none" stroke="#000000" stroke-width="0.9"/>
<line x1="261.32" y1="226.12" x2="261.32" y2="133.54" stroke="#000000" stroke-width="0.95" />
<circle cx="261.32" cy="133.54" r="2.2" fill="none" stroke="#000000" stroke-width="0.9"/>
<line x1="287.14" y1="227.13" x2="287.14" y2="96.43" stroke="#0000ff" stroke-width="0.95" />
<polygon points="287.14,93.1 284.34,98.1 289.94,98.1" fill="none" stroke="#0000ff" stroke-width="0.9" stroke-linejoin="miter"/>
<line x1="255.57" y1="227.09" x2="255.57" y2="138.28" stroke="#000000" stroke-width="0.95" />
<circle cx="255.57" cy="138.28" r="2.2" fill="none" stroke="#000000" stroke-width="0.9"/>
<line x1="245.88" y1="228.32" x2="245.88" y2="144.05" stroke="#000000" stroke-width="0.95" />
<circle cx="245.88" cy="144.05" r="2.2" fill="none" stroke="#000000" stroke-width="0.9"/>
<line x1="232.09" y1="229.78" x2="232.09" y2="150.22" stroke="#000000" stroke-width="0.95" />
<circle cx="232.09" cy="150.22" r="2.2" fill="none" stroke="#000000" stroke-width="0.9"/>
<line x1="296.63" y1="231.58" x2="296.63" y2="101.31" stroke="#0000ff" stroke-width="0.95" />
<polygon points="296.63,97.98 293.83,102.98 299.43,102.98" fill="none" stroke="#0000ff" stroke-width="0.9" stroke-linejoin="miter"/>
<line x1="213.71" y1="231.51" x2="213.71" y2="156.74" stroke="#000000" stroke-width="0.95" />
<circle cx="213.71" cy="156.74" r="2.2" fill="none" stroke="#000000" stroke-width="0.9"/>
<line x1="190.85" y1="233.37" x2="190.85" y2="163.41" stroke="#000000" stroke-width="0.95" />
<circle cx="190.85" cy="163.41" r="2.2" fill="none" stroke="#000000" stroke-width="0.9"/>
<line x1="185.66" y1="233.75" x2="185.66" y2="164.77" stroke="#000000" stroke-width="0.95" />
<circle cx="185.66" cy="164.77" r="2.2" fill="none" stroke="#000000" stroke-width="0.9"/>
<line x1="180.34" y1="234.11" x2="180.34" y2="166.12" stroke="#000000" stroke-width="0.95" />
<circle cx="180.34" cy="166.12" r="2.2" fill="none" stroke="#000000" stroke-width="0.9"/>
<line x1="174.89" y1="234.47" x2="174.89" y2="167.44" stroke="#000000" stroke-width="0.95" />
<circle cx="174.89" cy="167.44" r="2.2" fill="none" stroke="#000000" stroke-width="0.9"/>
<line x1="303.63" y1="234.86" x2="303.63" y2="105.2" stroke="#0000ff" stroke-width="0.95" />
<polygon points="303.63,101.86 300.83,106.86 306.43,106.86" fill="none" stroke="#0000ff" stroke-width="0.9" stroke-linejoin="miter"/>
<line x1="169.35" y1="234.8" x2="169.35" y2="168.75" stroke="#000000" stroke-width="0.95" />
<circle cx="169.35" cy="168.75" r="2.2" fill="none" stroke="#000000" stroke-width="0.9"/>
<line x1="308.56" y1="237.17" x2="308.56" y2="108.31" stroke="#0000ff" stroke-width="0.95" />
<polygon points="308.56,104.97 305.76,109.97 311.36,109.97" fill="none" stroke="#0000ff" stroke-width="0.9" stroke-linejoin="miter"/>
<line x1="311.61" y1="238.6" x2="311.61" y2="110.65" stroke="#0000ff" stroke-width="0.95" />
<polygon points="311.61,107.32 308.81,112.32 314.41,112.32" fill="none" stroke="#0000ff" stroke-width="0.9" stroke-linejoin="miter"/>
<line x1="313.78" y1="239.62" x2="313.78" y2="112.84" stroke="#0000ff" stroke-width="0.95" />
<polygon points="313.78,109.51 310.98,114.51 316.58,114.51" fill="none" stroke="#0000ff" stroke-width="0.9" stroke-linejoin="miter"/>
<line x1="315.29" y1="240.33" x2="315.29" y2="115.06" stroke="#0000ff" stroke-width="0.95" />
<polygon points="315.29,111.73 312.49,116.73 318.09,116.73" fill="none" stroke="#0000ff" stroke-width="0.9" stroke-linejoin="miter"/>
<line x1="316.35" y1="240.83" x2="316.35" y2="117.46" stroke="#0000ff" stroke-width="0.95" />
<polygon points="316.35,114.13 313.55,119.13 319.15,119.13" fill="none" stroke="#0000ff" stroke-width="0.9" stroke-linejoin="miter"/>
<line x1="317.09" y1="241.18" x2="317.09" y2="120.24" stroke="#0000ff" stroke-width="0.95" />
<polygon points="317.09,116.9 314.29,121.9 319.89,121.9" fill="none" stroke="#0000ff" stroke-width="0.9" stroke-linejoin="miter"/>
<line x1="317.59" y1="241.42" x2="317.59" y2="123.51" stroke="#0000ff" stroke-width="0.95" />
<polygon points="317.59,120.17 314.79,125.17 320.39,125.17" fill="none" stroke="#0000ff" stroke-width="0.9" stroke-linejoin="miter"/>
<line x1="317.91" y1="241.59" x2="317.91" y2="127.41" stroke="#0000ff" stroke-width="0.95" />
<polygon points="317.91,124.08 315.11,129.08 320.71,129.08" fill="none" stroke="#0000ff" stroke-width="0.9" stroke-linejoin="miter"/>
<line x1="318.11" y1="241.71" x2="318.11" y2="132.06" stroke="#0000ff" stroke-width="0.95" />
<polygon points="318.11,128.73 315.31,133.73 320.91,133.73" fill="none" stroke="#0000ff" stroke-width="0.9" stroke-linejoin="miter"/>
<line x1="318.18" y1="241.76" x2="318.18" y2="135.7" stroke="#0000ff" stroke-width="0.95" />
<polygon points="318.18,132.36 315.38,137.36 320.98,137.36" fill="none" stroke="#0000ff" stroke-width="0.9" stroke-linejoin="miter"/>
<line x1="318.2" y1="241.81" x2="318.2" y2="139.74" stroke="#0000ff" stroke-width="0.95" />
<polygon points="318.2,136.4 315.4,141.4 321,141.4" fill="none" stroke="#0000ff" stroke-width="0.9" stroke-linejoin="miter"/>
<line x1="318.16" y1="241.84" x2="318.16" y2="144.18" stroke="#0000ff" stroke-width="0.95" />
<polygon points="318.16,140.85 315.36,145.85 320.96,145.85" fill="none" stroke="#0000ff" stroke-width="0.9" stroke-linejoin="miter"/>
<line x1="318.04" y1="241.88" x2="318.04" y2="149.02" stroke="#0000ff" stroke-width="0.95" />
<polygon points="318.04,145.69 315.24,150.69 320.84,150.69" fill="none" stroke="#0000ff" stroke-width="0.9" stroke-linejoin="miter"/>
<line x1="317.9" y1="241.91" x2="317.9" y2="152.71" stroke="#0000ff" stroke-width="0.95" />
<polygon points="317.9,149.38 315.1,154.38 320.7,154.38" fill="none" stroke="#0000ff" stroke-width="0.9" stroke-linejoin="miter"/>
<line x1="317.69" y1="241.94" x2="317.69" y2="156.59" stroke="#0000ff" stroke-width="0.95" />
<polygon points="317.69,153.25 314.89,158.25 320.49,158.25" fill="none" stroke="#0000ff" stroke-width="0.9" stroke-linejoin="miter"/>
<line x1="317.37" y1="241.99" x2="317.37" y2="160.62" stroke="#0000ff" stroke-width="0.95" />
<polygon points="317.37,157.29 314.57,162.29 320.17,162.29" fill="none" stroke="#0000ff" stroke-width="0.9" stroke-linejoin="miter"/>
<line x1="316.89" y1="242.06" x2="316.89" y2="164.8" stroke="#0000ff" stroke-width="0.95" />
<polygon points="316.89,161.46 314.09,166.46 319.69,166.46" fill="none" stroke="#0000ff" stroke-width="0.9" stroke-linejoin="miter"/>
<line x1="316.4" y1="242.13" x2="316.4" y2="167.99" stroke="#0000ff" stroke-width="0.95" />
<polygon points="316.4,164.66 313.6,169.66 319.2,169.66" fill="none" stroke="#0000ff" stroke-width="0.9" stroke-linejoin="miter"/>
<line x1="315.75" y1="242.23" x2="315.75" y2="171.25" stroke="#0000ff" stroke-width="0.95" />
<polygon points="315.75,167.92 312.95,172.92 318.55,172.92" fill="none" stroke="#0000ff" stroke-width="0.9" stroke-linejoin="miter"/>
<line x1="314.86" y1="242.38" x2="314.86" y2="174.58" stroke="#0000ff" stroke-width="0.95" />
<polygon points="314.86,171.24 312.06,176.24 317.66,176.24" fill="none" stroke="#0000ff" stroke-width="0.9" stroke-linejoin="miter"/>
<line x1="313.65" y1="242.59" x2="313.65" y2="177.97" stroke="#0000ff" stroke-width="0.95" />
<polygon points="313.65,174.64 310.85,179.64 316.45,179.64" fill="none" stroke="#0000ff" stroke-width="0.9" stroke-linejoin="miter"/>
<line x1="312.15" y1="242.86" x2="312.15" y2="181.21" stroke="#0000ff" stroke-width="0.95" />
<polygon points="312.15,177.88 309.35,182.88 314.95,182.88" fill="none" stroke="#0000ff" stroke-width="0.9" stroke-linejoin="miter"/>
<line x1="310.13" y1="243.24" x2="310.13" y2="184.54" stroke="#0000ff" stroke-width="0.95" />
<polygon points="310.13,181.21 307.33,186.21 312.93,186.21" fill="none" stroke="#0000ff" stroke-width="0.9" stroke-linejoin="miter"/>
<line x1="307.42" y1="243.77" x2="307.42" y2="187.99" stroke="#0000ff" stroke-width="0.95" />
<polygon points="307.42,184.65 304.62,189.65 310.22,189.65" fill="none" stroke="#0000ff" stroke-width="0.9" stroke-linejoin="miter"/>
<line x1="303.8" y1="244.49" x2="303.8" y2="191.58" stroke="#0000ff" stroke-width="0.95" />
<polygon points="303.8,188.25 301,193.25 306.6,193.25" fill="none" stroke="#0000ff" stroke-width="0.9" stroke-linejoin="miter"/>
<line x1="299.42" y1="245.38" x2="299.42" y2="195.08" stroke="#0000ff" stroke-width="0.95" />
<polygon points="299.42,191.75 296.62,196.75 302.22,196.75" fill="none" stroke="#0000ff" stroke-width="0.9" stroke-linejoin="miter"/>
<line x1="293.76" y1="246.55" x2="293.76" y2="198.81" stroke="#0000ff" stroke-width="0.95" />
<polygon points="293.76,195.47 290.96,200.47 296.56,200.47" fill="none" stroke="#0000ff" stroke-width="0.9" stroke-linejoin="miter"/>
<line x1="286.56" y1="248.06" x2="286.56" y2="202.8" stroke="#0000ff" stroke-width="0.95" />
<polygon points="286.56,199.47 283.76,204.47 289.36,204.47" fill="none" stroke="#0000ff" stroke-width="0.9" stroke-linejoin="miter"/>
<line x1="277.58" y1="249.93" x2="277.58" y2="207.09" stroke="#0000ff" stroke-width="0.95" />
<polygon points="277.58,203.76 274.78,208.76 280.38,208.76" fill="none" stroke="#0000ff" stroke-width="0.9" stroke-linejoin="miter"/>
<line x1="266.85" y1="252.14" x2="266.85" y2="211.61" stroke="#0000ff" stroke-width="0.95" />
<polygon points="266.85,208.28 264.05,213.28 269.65,213.28" fill="none" stroke="#0000ff" stroke-width="0.9" stroke-linejoin="miter"/>
<line x1="254.24" y1="254.68" x2="254.24" y2="216.38" stroke="#0000ff" stroke-width="0.95" />
<polygon points="254.24,213.04 251.44,218.04 257.04,218.04" fill="none" stroke="#0000ff" stroke-width="0.9" stroke-linejoin="miter"/>
<line x1="239.95" y1="257.44" x2="239.95" y2="221.29" stroke="#0000ff" stroke-width="0.95" />
<polygon points="239.95,217.95 237.15,222.95 242.75,222.95" fill="none" stroke="#0000ff" stroke-width="0.9" stroke-linejoin="miter"/>
<line x1="224.39" y1="260.25" x2="224.39" y2="226.15" stroke="#0000ff" stroke-width="0.95" />
<polygon points="224.39,222.82 221.59,227.82 227.19,227.82" fill="none" stroke="#0000ff" stroke-width="0.9" stroke-linejoin="miter"/>
<line x1="210.1" y1="262.57" x2="210.1" y2="230.21" stroke="#0000ff" stroke-width="0.95" />
<polygon points="210.1,226.88 207.3,231.88 212.9,231.88" fill="none" stroke="#0000ff" stroke-width="0.9" stroke-linejoin="miter"/>
<line x1="195.73" y1="264.55" x2="195.73" y2="233.86" stroke="#0000ff" stroke-width="0.95" />
<polygon points="195.73,230.52 192.93,235.52 198.53,235.52" fill="none" stroke="#0000ff" stroke-width="0.9" stroke-linejoin="miter"/>
<line x1="181.63" y1="266.02" x2="181.63" y2="236.93" stroke="#0000ff" stroke-width="0.95" />
<polygon points="181.63,233.59 178.83,238.59 184.43,238.59" fill="none" stroke="#0000ff" stroke-width="0.9" stroke-linejoin="miter"/>
<line x1="168.04" y1="266.87" x2="168.04" y2="239.29" stroke="#0000ff" stroke-width="0.95" />
<polygon points="168.04,235.95 165.24,240.95 170.84,240.95" fill="none" stroke="#0000ff" stroke-width="0.9" stroke-linejoin="miter"/>
<line x1="165.4" y1="266.95" x2="165.4" y2="239.66" stroke="#0000ff" stroke-width="0.95" />
<polygon points="165.4,236.33 162.6,241.33 168.2,241.33" fill="none" stroke="#0000ff" stroke-width="0.9" stroke-linejoin="miter"/>
<line x1="162.78" y1="267" x2="162.78" y2="240.01" stroke="#0000ff" stroke-width="0.95" />
<polygon points="162.78,236.68 159.98,241.68 165.58,241.68" fill="none" stroke="#0000ff" stroke-width="0.9" stroke-linejoin="miter"/>
<line x1="160.19" y1="267.03" x2="160.19" y2="240.32" stroke="#0000ff" stroke-width="0.95" />
<polygon points="160.19,236.99 157.39,241.99 162.99,241.99" fill="none" stroke="#0000ff" stroke-width="0.9" stroke-linejoin="miter"/>
<line x1="157.62" y1="267.02" x2="157.62" y2="240.6" stroke="#0000ff" stroke-width="0.95" />
<polygon points="157.62,237.27 154.82,242.27 160.42,242.27" fill="none" stroke="#0000ff" stroke-width="0.9" stroke-linejoin="miter"/>
</g>
<line x1="149.8" y1="288.5" x2="319.3" y2="242.2" stroke="#666666" stroke-width="0.8" />
<line x1="149.8" y1="288.5" x2="19.4" y2="227.4" stroke="#666666" stroke-width="0.8" />
<line x1="19.4" y1="227.4" x2="19.4" y2="95.3" stroke="#666666" stroke-width="0.8" />
<line x1="149.8" y1="288.5" x2="153.87" y2="290.41" stroke="#666666" stroke-width="0.8" />
<text x="156.8" y="299.8" font-family="'Liberation Sans', sans-serif" font-size="7.5" fill="#333">0</text>
<line x1="149.8" y1="288.5" x2="145.46" y2="289.69" stroke="#666666" stroke-width="0.8" />
<text x="141.8" y="299.1" font-family="'Liberation Sans', sans-serif" font-size="7.5" fill="#333" text-anchor="end">0</text>
<line x1="19.4" y1="227.4" x2="15.33" y2="225.49" stroke="#666666" stroke-width="0.8" />
<text x="12.2" y="227.4" font-family="'Liberation Sans', sans-serif" font-size="7.5" fill="#333" text-anchor="end">0</text>
<line x1="183.7" y1="279.24" x2="187.77" y2="281.15" stroke="#666666" stroke-width="0.8" />
<text x="190.7" y="290.54" font-family="'Liberation Sans', sans-serif" font-size="7.5" fill="#333">0.2</text>
<line x1="123.72" y1="276.28" x2="119.38" y2="277.47" stroke="#666666" stroke-width="0.8" />
<text x="115.72" y="286.88" font-family="'Liberation Sans', sans-serif" font-size="7.5" fill="#333" text-anchor="end">0.2</text>
<line x1="19.4" y1="200.98" x2="15.33" y2="199.07" stroke="#666666" stroke-width="0.8" />
<text x="12.2" y="200.98" font-family="'Liberation Sans', sans-serif" font-size="7.5" fill="#333" text-anchor="end">0.2</text>
<line x1="217.6" y1="269.98" x2="221.67" y2="271.89" stroke="#666666" stroke-width="0.8" />
<text x="224.6" y="281.28" font-family="'Liberation Sans', sans-serif" font-size="7.5" fill="#333">0.4</text>
<line x1="97.64" y1="264.06" x2="93.3" y2="265.25" stroke="#666666" stroke-width="0.8" />
<text x="89.64" y="274.66" font-family="'Liberation Sans', sans-serif" font-size="7.5" fill="#333" text-anchor="end">0.4</text>
<line x1="19.4" y1="174.56" x2="15.33" y2="172.65" stroke="#666666" stroke-width="0.8" />
<text x="12.2" y="174.56" font-family="'Liberation Sans', sans-serif" font-size="7.5" fill="#333" text-anchor="end">0.4</text>
<line x1="251.5" y1="260.72" x2="255.57" y2="262.63" stroke="#666666" stroke-width="0.8" />
<text x="258.5" y="272.02" font-family="'Liberation Sans', sans-serif" font-size="7.5" fill="#333">0.6</text>
<line x1="71.56" y1="251.84" x2="67.22" y2="253.03" stroke="#666666" stroke-width="0.8" />
<text x="63.56" y="262.44" font-family="'Liberation Sans', sans-serif" font-size="7.5" fill="#333" text-anchor="end">0.6</text>
<line x1="19.4" y1="148.14" x2="15.33" y2="146.23" stroke="#666666" stroke-width="0.8" />
<text x="12.2" y="148.14" font-family="'Liberation Sans', sans-serif" font-size="7.5" fill="#333" text-anchor="end">0.6</text>
<line x1="285.4" y1="251.46" x2="289.47" y2="253.37" stroke="#666666" stroke-width="0.8" />
<text x="292.4" y="262.76" font-family="'Liberation Sans', sans-serif" font-size="7.5" fill="#333">0.8</text>
<line x1="45.48" y1="239.62" x2="41.14" y2="240.81" stroke="#666666" stroke-width="0.8" />
<text x="37.48" y="250.22" font-family="'Liberation Sans', sans-serif" font-size="7.5" fill="#333" text-anchor="end">0.8</text>
<line x1="19.4" y1="121.72" x2="15.33" y2="119.81" stroke="#666666" stroke-width="0.8" />
<text x="12.2" y="121.72" font-family="'Liberation Sans', sans-serif" font-size="7.5" fill="#333" text-anchor="end">0.8</text>
<line x1="319.3" y1="242.2" x2="323.37" y2="244.11" stroke="#666666" stroke-width="0.8" />
<text x="326.3" y="253.5" font-family="'Liberation Sans', sans-serif" font-size="7.5" fill="#333">1</text>
<line x1="19.4" y1="227.4" x2="15.06" y2="228.59" stroke="#666666" stroke-width="0.8" />
<text x="11.4" y="238" font-family="'Liberation Sans', sans-serif" font-size="7.5" fill="#333" text-anchor="end">1</text>
<line x1="19.4" y1="95.3" x2="15.33" y2="93.39" stroke="#666666" stroke-width="0.8" />
<text x="12.2" y="95.3" font-family="'Liberation Sans', sans-serif" font-size="7.5" fill="#333" text-anchor="end">1</text>
<text x="219.6" y="299" font-family="'Liberation Serif', serif" font-style="italic" font-size="8.5" fill="#444" text-anchor="middle">x</text>
<text x="88.6" y="295.6" font-family="'Liberation Serif', serif" font-style="italic" font-size="8.5" fill="#444" text-anchor="middle">y</text>
<text transform="translate(4.4,81.4) rotate(-90)" font-family="'Liberation Serif', serif" font-style="italic" font-size="8.5" fill="#444" text-anchor="middle">z</text>
<rect x="29.9" y="61.3" width="89.30000000000001" height="30.10000000000001" fill="#fff" stroke="#333" stroke-width="0.7"/>
<line x1="32.7" y1="67.1" x2="50" y2="67.1" stroke="#000000" stroke-width="0.8" />
<circle cx="49.7" cy="67.1" r="2.2" fill="none" stroke="#000000" stroke-width="0.9"/>
<text x="58.6" y="69.69999999999999" font-family="'Liberation Sans', sans-serif" font-size="7.4" fill="#111">x=0.5 y=0.5 z=0.5</text>
<line x1="32.7" y1="76.8" x2="50" y2="76.8" stroke="#0000ff" stroke-width="0.8" />
<polygon points="49.7,73.47 46.9,78.47 52.5,78.47" fill="none" stroke="#0000ff" stroke-width="0.9" stroke-linejoin="miter"/>
<text x="58.6" y="79.39999999999999" font-family="'Liberation Sans', sans-serif" font-size="7.4" fill="#111">x=0.2 y=0.2 z=0.2</text>
<line x1="32.7" y1="86.3" x2="50" y2="86.3" stroke="#ff0000" stroke-width="0.8" />
<circle cx="49.7" cy="86.3" r="2.2" fill="none" stroke="#ff0000" stroke-width="0.9"/>
<text x="58.6" y="88.89999999999999" font-family="'Liberation Sans', sans-serif" font-size="7.4" fill="#111">x=0.8 y=0.8 z=0.8</text>
<line x1="438.6" y1="4.6" x2="438.6" y2="99.9" stroke="#e3e3e3" stroke-width="0.7" />
<line x1="472.8" y1="4.6" x2="472.8" y2="99.9" stroke="#e3e3e3" stroke-width="0.7" />
<line x1="507" y1="4.6" x2="507" y2="99.9" stroke="#e3e3e3" stroke-width="0.7" />
<line x1="541.2" y1="4.6" x2="541.2" y2="99.9" stroke="#e3e3e3" stroke-width="0.7" />
<line x1="575.4" y1="4.6" x2="575.4" y2="99.9" stroke="#e3e3e3" stroke-width="0.7" />
<line x1="609.6" y1="4.6" x2="609.6" y2="99.9" stroke="#e3e3e3" stroke-width="0.7" />
<line x1="643.8" y1="4.6" x2="643.8" y2="99.9" stroke="#e3e3e3" stroke-width="0.7" />
<line x1="678" y1="4.6" x2="678" y2="99.9" stroke="#e3e3e3" stroke-width="0.7" />
<line x1="404.4" y1="80.84" x2="678" y2="80.84" stroke="#e3e3e3" stroke-width="0.7" />
<line x1="404.4" y1="61.78" x2="678" y2="61.78" stroke="#e3e3e3" stroke-width="0.7" />
<line x1="404.4" y1="42.72" x2="678" y2="42.72" stroke="#e3e3e3" stroke-width="0.7" />
<line x1="404.4" y1="23.66" x2="678" y2="23.66" stroke="#e3e3e3" stroke-width="0.7" />
<line x1="404.4" y1="4.6" x2="678" y2="4.6" stroke="#e3e3e3" stroke-width="0.7" />
<rect x="404.4" y="4.6" width="273.6" height="95.30000000000001" fill="none" stroke="#666666" stroke-width="0.8"/>
<line x1="404.4" y1="99.9" x2="404.4" y2="97.2" stroke="#666666" stroke-width="0.7" />
<line x1="404.4" y1="4.6" x2="404.4" y2="7.3" stroke="#666666" stroke-width="0.7" />
<text x="404.4" y="109.7" font-family="'Liberation Sans', sans-serif" font-size="7" fill="#333" text-anchor="middle">0</text>
<line x1="438.6" y1="99.9" x2="438.6" y2="97.2" stroke="#666666" stroke-width="0.7" />
<line x1="438.6" y1="4.6" x2="438.6" y2="7.3" stroke="#666666" stroke-width="0.7" />
<text x="438.6" y="109.7" font-family="'Liberation Sans', sans-serif" font-size="7" fill="#333" text-anchor="middle">0.5</text>
<line x1="472.8" y1="99.9" x2="472.8" y2="97.2" stroke="#666666" stroke-width="0.7" />
<line x1="472.8" y1="4.6" x2="472.8" y2="7.3" stroke="#666666" stroke-width="0.7" />
<text x="472.8" y="109.7" font-family="'Liberation Sans', sans-serif" font-size="7" fill="#333" text-anchor="middle">1</text>
<line x1="507" y1="99.9" x2="507" y2="97.2" stroke="#666666" stroke-width="0.7" />
<line x1="507" y1="4.6" x2="507" y2="7.3" stroke="#666666" stroke-width="0.7" />
<text x="507" y="109.7" font-family="'Liberation Sans', sans-serif" font-size="7" fill="#333" text-anchor="middle">1.5</text>
<line x1="541.2" y1="99.9" x2="541.2" y2="97.2" stroke="#666666" stroke-width="0.7" />
<line x1="541.2" y1="4.6" x2="541.2" y2="7.3" stroke="#666666" stroke-width="0.7" />
<text x="541.2" y="109.7" font-family="'Liberation Sans', sans-serif" font-size="7" fill="#333" text-anchor="middle">2</text>
<line x1="575.4" y1="99.9" x2="575.4" y2="97.2" stroke="#666666" stroke-width="0.7" />
<line x1="575.4" y1="4.6" x2="575.4" y2="7.3" stroke="#666666" stroke-width="0.7" />
<text x="575.4" y="109.7" font-family="'Liberation Sans', sans-serif" font-size="7" fill="#333" text-anchor="middle">2.5</text>
<line x1="609.6" y1="99.9" x2="609.6" y2="97.2" stroke="#666666" stroke-width="0.7" />
<line x1="609.6" y1="4.6" x2="609.6" y2="7.3" stroke="#666666" stroke-width="0.7" />
<text x="609.6" y="109.7" font-family="'Liberation Sans', sans-serif" font-size="7" fill="#333" text-anchor="middle">3</text>
<line x1="643.8" y1="99.9" x2="643.8" y2="97.2" stroke="#666666" stroke-width="0.7" />
<line x1="643.8" y1="4.6" x2="643.8" y2="7.3" stroke="#666666" stroke-width="0.7" />
<text x="643.8" y="109.7" font-family="'Liberation Sans', sans-serif" font-size="7" fill="#333" text-anchor="middle">3.5</text>
<line x1="678" y1="99.9" x2="678" y2="97.2" stroke="#666666" stroke-width="0.7" />
<line x1="678" y1="4.6" x2="678" y2="7.3" stroke="#666666" stroke-width="0.7" />
<text x="678" y="109.7" font-family="'Liberation Sans', sans-serif" font-size="7" fill="#333" text-anchor="middle">4</text>
<line x1="404.4" y1="99.9" x2="407.1" y2="99.9" stroke="#666666" stroke-width="0.7" />
<line x1="678" y1="99.9" x2="675.3" y2="99.9" stroke="#666666" stroke-width="0.7" />
<text x="401.2" y="102.7" font-family="'Liberation Sans', sans-serif" font-size="7" fill="#333" text-anchor="end">0</text>
<line x1="404.4" y1="80.84" x2="407.1" y2="80.84" stroke="#666666" stroke-width="0.7" />
<line x1="678" y1="80.84" x2="675.3" y2="80.84" stroke="#666666" stroke-width="0.7" />
<text x="401.2" y="83.64" font-family="'Liberation Sans', sans-serif" font-size="7" fill="#333" text-anchor="end">0.2</text>
<line x1="404.4" y1="61.78" x2="407.1" y2="61.78" stroke="#666666" stroke-width="0.7" />
<line x1="678" y1="61.78" x2="675.3" y2="61.78" stroke="#666666" stroke-width="0.7" />
<text x="401.2" y="64.58" font-family="'Liberation Sans', sans-serif" font-size="7" fill="#333" text-anchor="end">0.4</text>
<line x1="404.4" y1="42.72" x2="407.1" y2="42.72" stroke="#666666" stroke-width="0.7" />
<line x1="678" y1="42.72" x2="675.3" y2="42.72" stroke="#666666" stroke-width="0.7" />
<text x="401.2" y="45.52" font-family="'Liberation Sans', sans-serif" font-size="7" fill="#333" text-anchor="end">0.6</text>
<line x1="404.4" y1="23.66" x2="407.1" y2="23.66" stroke="#666666" stroke-width="0.7" />
<line x1="678" y1="23.66" x2="675.3" y2="23.66" stroke="#666666" stroke-width="0.7" />
<text x="401.2" y="26.46" font-family="'Liberation Sans', sans-serif" font-size="7" fill="#333" text-anchor="end">0.8</text>
<line x1="404.4" y1="4.6" x2="407.1" y2="4.6" stroke="#666666" stroke-width="0.7" />
<line x1="678" y1="4.6" x2="675.3" y2="4.6" stroke="#666666" stroke-width="0.7" />
<text x="401.2" y="7.4" font-family="'Liberation Sans', sans-serif" font-size="7" fill="#333" text-anchor="end">1</text>
<text x="541.2" y="117.9" font-family="'Liberation Serif', serif" font-style="italic" font-size="7.5" fill="#333" text-anchor="middle" letter-spacing="1">Time</text>
<text transform="translate(386.4,51.25) rotate(-90)" font-family="'Liberation Serif', serif" font-style="italic" font-size="7.5" fill="#333" text-anchor="middle">Probability</text>
<polyline points="404.4,52.25 404.87,50.03 405.33,47.83 405.8,45.66 406.27,43.53 408.54,34 410.81,26.16 413.08,20.15 415.36,15.78 417.33,13.01 419.3,10.95 421.27,9.43 423.24,8.31 425.21,7.48 427.19,6.86 429.16,6.4 431.13,6.04 434.02,5.66 436.91,5.4 439.81,5.21 442.7,5.08 446.45,4.95 450.21,4.86 453.97,4.8 457.72,4.76 460.3,4.73 462.87,4.71 465.45,4.7 468.02,4.68 470.6,4.67 473.17,4.66 475.75,4.65 478.32,4.64 481.23,4.64 484.14,4.63 487.05,4.63 489.96,4.62 493.45,4.62 496.94,4.61 500.43,4.61 503.92,4.61 508.41,4.61 512.89,4.61 517.38,4.6 521.86,4.6 527.91,4.6 533.95,4.6 540,4.6 546.05,4.6 552.89,4.6 559.73,4.6 566.57,4.6 573.41,4.6 580.25,4.6 587.09,4.6 593.93,4.6 600.77,4.6 607.61,4.6 614.45,4.6 621.29,4.6 628.13,4.6 634.43,4.6 640.74,4.6 647.05,4.6 653.36,4.6 659.52,4.6 665.68,4.6 671.84,4.6 678,4.6" fill="none" stroke="#000000" stroke-width="0.75"/>
<circle cx="404.4" cy="52.25" r="1.5" fill="none" stroke="#000000" stroke-width="0.8"/>
<circle cx="404.87" cy="50.03" r="1.5" fill="none" stroke="#000000" stroke-width="0.8"/>
<circle cx="405.33" cy="47.83" r="1.5" fill="none" stroke="#000000" stroke-width="0.8"/>
<circle cx="405.8" cy="45.66" r="1.5" fill="none" stroke="#000000" stroke-width="0.8"/>
<circle cx="406.27" cy="43.53" r="1.5" fill="none" stroke="#000000" stroke-width="0.8"/>
<circle cx="408.54" cy="34" r="1.5" fill="none" stroke="#000000" stroke-width="0.8"/>
<circle cx="410.81" cy="26.16" r="1.5" fill="none" stroke="#000000" stroke-width="0.8"/>
<circle cx="413.08" cy="20.15" r="1.5" fill="none" stroke="#000000" stroke-width="0.8"/>
<circle cx="415.36" cy="15.78" r="1.5" fill="none" stroke="#000000" stroke-width="0.8"/>
<circle cx="417.33" cy="13.01" r="1.5" fill="none" stroke="#000000" stroke-width="0.8"/>
<circle cx="419.3" cy="10.95" r="1.5" fill="none" stroke="#000000" stroke-width="0.8"/>
<circle cx="421.27" cy="9.43" r="1.5" fill="none" stroke="#000000" stroke-width="0.8"/>
<circle cx="423.24" cy="8.31" r="1.5" fill="none" stroke="#000000" stroke-width="0.8"/>
<circle cx="425.21" cy="7.48" r="1.5" fill="none" stroke="#000000" stroke-width="0.8"/>
<circle cx="427.19" cy="6.86" r="1.5" fill="none" stroke="#000000" stroke-width="0.8"/>
<circle cx="429.16" cy="6.4" r="1.5" fill="none" stroke="#000000" stroke-width="0.8"/>
<circle cx="431.13" cy="6.04" r="1.5" fill="none" stroke="#000000" stroke-width="0.8"/>
<circle cx="434.02" cy="5.66" r="1.5" fill="none" stroke="#000000" stroke-width="0.8"/>
<circle cx="436.91" cy="5.4" r="1.5" fill="none" stroke="#000000" stroke-width="0.8"/>
<circle cx="439.81" cy="5.21" r="1.5" fill="none" stroke="#000000" stroke-width="0.8"/>
<circle cx="442.7" cy="5.08" r="1.5" fill="none" stroke="#000000" stroke-width="0.8"/>
<circle cx="446.45" cy="4.95" r="1.5" fill="none" stroke="#000000" stroke-width="0.8"/>
<circle cx="450.21" cy="4.86" r="1.5" fill="none" stroke="#000000" stroke-width="0.8"/>
<circle cx="453.97" cy="4.8" r="1.5" fill="none" stroke="#000000" stroke-width="0.8"/>
<circle cx="457.72" cy="4.76" r="1.5" fill="none" stroke="#000000" stroke-width="0.8"/>
<circle cx="460.3" cy="4.73" r="1.5" fill="none" stroke="#000000" stroke-width="0.8"/>
<circle cx="462.87" cy="4.71" r="1.5" fill="none" stroke="#000000" stroke-width="0.8"/>
<circle cx="465.45" cy="4.7" r="1.5" fill="none" stroke="#000000" stroke-width="0.8"/>
<circle cx="468.02" cy="4.68" r="1.5" fill="none" stroke="#000000" stroke-width="0.8"/>
<circle cx="470.6" cy="4.67" r="1.5" fill="none" stroke="#000000" stroke-width="0.8"/>
<circle cx="473.17" cy="4.66" r="1.5" fill="none" stroke="#000000" stroke-width="0.8"/>
<circle cx="475.75" cy="4.65" r="1.5" fill="none" stroke="#000000" stroke-width="0.8"/>
<circle cx="478.32" cy="4.64" r="1.5" fill="none" stroke="#000000" stroke-width="0.8"/>
<circle cx="481.23" cy="4.64" r="1.5" fill="none" stroke="#000000" stroke-width="0.8"/>
<circle cx="484.14" cy="4.63" r="1.5" fill="none" stroke="#000000" stroke-width="0.8"/>
<circle cx="487.05" cy="4.63" r="1.5" fill="none" stroke="#000000" stroke-width="0.8"/>
<circle cx="489.96" cy="4.62" r="1.5" fill="none" stroke="#000000" stroke-width="0.8"/>
<circle cx="493.45" cy="4.62" r="1.5" fill="none" stroke="#000000" stroke-width="0.8"/>
<circle cx="496.94" cy="4.61" r="1.5" fill="none" stroke="#000000" stroke-width="0.8"/>
<circle cx="500.43" cy="4.61" r="1.5" fill="none" stroke="#000000" stroke-width="0.8"/>
<circle cx="503.92" cy="4.61" r="1.5" fill="none" stroke="#000000" stroke-width="0.8"/>
<circle cx="508.41" cy="4.61" r="1.5" fill="none" stroke="#000000" stroke-width="0.8"/>
<circle cx="512.89" cy="4.61" r="1.5" fill="none" stroke="#000000" stroke-width="0.8"/>
<circle cx="517.38" cy="4.6" r="1.5" fill="none" stroke="#000000" stroke-width="0.8"/>
<circle cx="521.86" cy="4.6" r="1.5" fill="none" stroke="#000000" stroke-width="0.8"/>
<circle cx="527.91" cy="4.6" r="1.5" fill="none" stroke="#000000" stroke-width="0.8"/>
<circle cx="533.95" cy="4.6" r="1.5" fill="none" stroke="#000000" stroke-width="0.8"/>
<circle cx="540" cy="4.6" r="1.5" fill="none" stroke="#000000" stroke-width="0.8"/>
<circle cx="546.05" cy="4.6" r="1.5" fill="none" stroke="#000000" stroke-width="0.8"/>
<circle cx="552.89" cy="4.6" r="1.5" fill="none" stroke="#000000" stroke-width="0.8"/>
<circle cx="559.73" cy="4.6" r="1.5" fill="none" stroke="#000000" stroke-width="0.8"/>
<circle cx="566.57" cy="4.6" r="1.5" fill="none" stroke="#000000" stroke-width="0.8"/>
<circle cx="573.41" cy="4.6" r="1.5" fill="none" stroke="#000000" stroke-width="0.8"/>
<circle cx="580.25" cy="4.6" r="1.5" fill="none" stroke="#000000" stroke-width="0.8"/>
<circle cx="587.09" cy="4.6" r="1.5" fill="none" stroke="#000000" stroke-width="0.8"/>
<circle cx="593.93" cy="4.6" r="1.5" fill="none" stroke="#000000" stroke-width="0.8"/>
<circle cx="600.77" cy="4.6" r="1.5" fill="none" stroke="#000000" stroke-width="0.8"/>
<circle cx="607.61" cy="4.6" r="1.5" fill="none" stroke="#000000" stroke-width="0.8"/>
<circle cx="614.45" cy="4.6" r="1.5" fill="none" stroke="#000000" stroke-width="0.8"/>
<circle cx="621.29" cy="4.6" r="1.5" fill="none" stroke="#000000" stroke-width="0.8"/>
<circle cx="628.13" cy="4.6" r="1.5" fill="none" stroke="#000000" stroke-width="0.8"/>
<circle cx="634.43" cy="4.6" r="1.5" fill="none" stroke="#000000" stroke-width="0.8"/>
<circle cx="640.74" cy="4.6" r="1.5" fill="none" stroke="#000000" stroke-width="0.8"/>
<circle cx="647.05" cy="4.6" r="1.5" fill="none" stroke="#000000" stroke-width="0.8"/>
<circle cx="653.36" cy="4.6" r="1.5" fill="none" stroke="#000000" stroke-width="0.8"/>
<circle cx="659.52" cy="4.6" r="1.5" fill="none" stroke="#000000" stroke-width="0.8"/>
<circle cx="665.68" cy="4.6" r="1.5" fill="none" stroke="#000000" stroke-width="0.8"/>
<circle cx="671.84" cy="4.6" r="1.5" fill="none" stroke="#000000" stroke-width="0.8"/>
<circle cx="678" cy="4.6" r="1.5" fill="none" stroke="#000000" stroke-width="0.8"/>
<polyline points="404.4,52.25 404.87,53.41 405.33,54.53 405.8,55.6 406.27,56.63 408.54,60.95 410.81,64.19 413.08,66.46 415.36,67.86 417.33,68.46 419.3,68.53 421.27,68.12 423.24,67.26 425.21,65.97 427.19,64.24 429.16,62.11 431.13,59.59 434.02,55.23 436.91,50.2 439.81,44.68 442.7,38.9 446.45,31.5 450.21,24.75 453.97,19.02 457.72,14.53 460.3,12.16 462.87,10.28 465.45,8.83 468.02,7.73 470.6,6.89 473.17,6.27 475.75,5.81 478.32,5.48 481.23,5.21 484.14,5.01 487.05,4.89 489.96,4.8 493.45,4.73 496.94,4.68 500.43,4.65 503.92,4.64 508.41,4.62 512.89,4.61 517.38,4.61 521.86,4.61 527.91,4.6 533.95,4.6 540,4.6 546.05,4.61 552.89,4.6 559.73,4.59 566.57,4.6 573.41,4.61 580.25,4.59 587.09,4.59 593.93,4.61 600.77,4.62 607.61,4.58 614.45,4.57 621.29,4.61 628.13,4.64 634.43,4.59 640.74,4.57 647.05,4.62 653.36,4.64 659.52,4.59 665.68,4.58 671.84,4.62 678,4.64" fill="none" stroke="#000000" stroke-width="0.75"/>
<polygon points="404.4,50.12 402.45,53.32 406.35,53.32" fill="none" stroke="#000000" stroke-width="0.8" stroke-linejoin="miter"/>
<polygon points="404.87,51.28 402.92,54.48 406.82,54.48" fill="none" stroke="#000000" stroke-width="0.8" stroke-linejoin="miter"/>
<polygon points="405.33,52.4 403.38,55.6 407.28,55.6" fill="none" stroke="#000000" stroke-width="0.8" stroke-linejoin="miter"/>
<polygon points="405.8,53.47 403.85,56.67 407.75,56.67" fill="none" stroke="#000000" stroke-width="0.8" stroke-linejoin="miter"/>
<polygon points="406.27,54.5 404.32,57.7 408.22,57.7" fill="none" stroke="#000000" stroke-width="0.8" stroke-linejoin="miter"/>
<polygon points="408.54,58.81 406.59,62.01 410.49,62.01" fill="none" stroke="#000000" stroke-width="0.8" stroke-linejoin="miter"/>
<polygon points="410.81,62.06 408.86,65.26 412.76,65.26" fill="none" stroke="#000000" stroke-width="0.8" stroke-linejoin="miter"/>
<polygon points="413.08,64.33 411.13,67.53 415.03,67.53" fill="none" stroke="#000000" stroke-width="0.8" stroke-linejoin="miter"/>
<polygon points="415.36,65.73 413.41,68.93 417.31,68.93" fill="none" stroke="#000000" stroke-width="0.8" stroke-linejoin="miter"/>
<polygon points="417.33,66.32 415.38,69.52 419.28,69.52" fill="none" stroke="#000000" stroke-width="0.8" stroke-linejoin="miter"/>
<polygon points="419.3,66.4 417.35,69.6 421.25,69.6" fill="none" stroke="#000000" stroke-width="0.8" stroke-linejoin="miter"/>
<polygon points="421.27,65.99 419.32,69.19 423.22,69.19" fill="none" stroke="#000000" stroke-width="0.8" stroke-linejoin="miter"/>
<polygon points="423.24,65.13 421.29,68.33 425.19,68.33" fill="none" stroke="#000000" stroke-width="0.8" stroke-linejoin="miter"/>
<polygon points="425.21,63.83 423.26,67.03 427.16,67.03" fill="none" stroke="#000000" stroke-width="0.8" stroke-linejoin="miter"/>
<polygon points="427.19,62.11 425.24,65.31 429.14,65.31" fill="none" stroke="#000000" stroke-width="0.8" stroke-linejoin="miter"/>
<polygon points="429.16,59.98 427.21,63.18 431.11,63.18" fill="none" stroke="#000000" stroke-width="0.8" stroke-linejoin="miter"/>
<polygon points="431.13,57.46 429.18,60.66 433.08,60.66" fill="none" stroke="#000000" stroke-width="0.8" stroke-linejoin="miter"/>
<polygon points="434.02,53.1 432.07,56.3 435.97,56.3" fill="none" stroke="#000000" stroke-width="0.8" stroke-linejoin="miter"/>
<polygon points="436.91,48.07 434.96,51.27 438.86,51.27" fill="none" stroke="#000000" stroke-width="0.8" stroke-linejoin="miter"/>
<polygon points="439.81,42.55 437.86,45.75 441.76,45.75" fill="none" stroke="#000000" stroke-width="0.8" stroke-linejoin="miter"/>
<polygon points="442.7,36.77 440.75,39.97 444.65,39.97" fill="none" stroke="#000000" stroke-width="0.8" stroke-linejoin="miter"/>
<polygon points="446.45,29.37 444.5,32.57 448.4,32.57" fill="none" stroke="#000000" stroke-width="0.8" stroke-linejoin="miter"/>
<polygon points="450.21,22.61 448.26,25.81 452.16,25.81" fill="none" stroke="#000000" stroke-width="0.8" stroke-linejoin="miter"/>
<polygon points="453.97,16.89 452.02,20.09 455.92,20.09" fill="none" stroke="#000000" stroke-width="0.8" stroke-linejoin="miter"/>
<polygon points="457.72,12.4 455.77,15.6 459.67,15.6" fill="none" stroke="#000000" stroke-width="0.8" stroke-linejoin="miter"/>
<polygon points="460.3,10.02 458.35,13.22 462.25,13.22" fill="none" stroke="#000000" stroke-width="0.8" stroke-linejoin="miter"/>
<polygon points="462.87,8.15 460.92,11.35 464.82,11.35" fill="none" stroke="#000000" stroke-width="0.8" stroke-linejoin="miter"/>
<polygon points="465.45,6.69 463.5,9.89 467.4,9.89" fill="none" stroke="#000000" stroke-width="0.8" stroke-linejoin="miter"/>
<polygon points="468.02,5.59 466.07,8.79 469.97,8.79" fill="none" stroke="#000000" stroke-width="0.8" stroke-linejoin="miter"/>
<polygon points="470.6,4.76 468.65,7.96 472.55,7.96" fill="none" stroke="#000000" stroke-width="0.8" stroke-linejoin="miter"/>
<polygon points="473.17,4.13 471.22,7.33 475.12,7.33" fill="none" stroke="#000000" stroke-width="0.8" stroke-linejoin="miter"/>
<polygon points="475.75,3.68 473.8,6.88 477.7,6.88" fill="none" stroke="#000000" stroke-width="0.8" stroke-linejoin="miter"/>
<polygon points="478.32,3.35 476.37,6.55 480.27,6.55" fill="none" stroke="#000000" stroke-width="0.8" stroke-linejoin="miter"/>
<polygon points="481.23,3.07 479.28,6.27 483.18,6.27" fill="none" stroke="#000000" stroke-width="0.8" stroke-linejoin="miter"/>
<polygon points="484.14,2.88 482.19,6.08 486.09,6.08" fill="none" stroke="#000000" stroke-width="0.8" stroke-linejoin="miter"/>
<polygon points="487.05,2.75 485.1,5.95 489,5.95" fill="none" stroke="#000000" stroke-width="0.8" stroke-linejoin="miter"/>
<polygon points="489.96,2.67 488.01,5.87 491.91,5.87" fill="none" stroke="#000000" stroke-width="0.8" stroke-linejoin="miter"/>
<polygon points="493.45,2.59 491.5,5.79 495.4,5.79" fill="none" stroke="#000000" stroke-width="0.8" stroke-linejoin="miter"/>
<polygon points="496.94,2.54 494.99,5.74 498.89,5.74" fill="none" stroke="#000000" stroke-width="0.8" stroke-linejoin="miter"/>
<polygon points="500.43,2.52 498.48,5.72 502.38,5.72" fill="none" stroke="#000000" stroke-width="0.8" stroke-linejoin="miter"/>
<polygon points="503.92,2.5 501.97,5.7 505.87,5.7" fill="none" stroke="#000000" stroke-width="0.8" stroke-linejoin="miter"/>
<polygon points="508.41,2.48 506.46,5.68 510.36,5.68" fill="none" stroke="#000000" stroke-width="0.8" stroke-linejoin="miter"/>
<polygon points="512.89,2.47 510.94,5.67 514.84,5.67" fill="none" stroke="#000000" stroke-width="0.8" stroke-linejoin="miter"/>
<polygon points="517.38,2.47 515.43,5.67 519.33,5.67" fill="none" stroke="#000000" stroke-width="0.8" stroke-linejoin="miter"/>
<polygon points="521.86,2.47 519.91,5.67 523.81,5.67" fill="none" stroke="#000000" stroke-width="0.8" stroke-linejoin="miter"/>
<polygon points="527.91,2.47 525.96,5.67 529.86,5.67" fill="none" stroke="#000000" stroke-width="0.8" stroke-linejoin="miter"/>
<polygon points="533.95,2.46 532,5.66 535.9,5.66" fill="none" stroke="#000000" stroke-width="0.8" stroke-linejoin="miter"/>
<polygon points="540,2.47 538.05,5.67 541.95,5.67" fill="none" stroke="#000000" stroke-width="0.8" stroke-linejoin="miter"/>
<polygon points="546.05,2.47 544.1,5.67 548,5.67" fill="none" stroke="#000000" stroke-width="0.8" stroke-linejoin="miter"/>
<polygon points="552.89,2.46 550.94,5.66 554.84,5.66" fill="none" stroke="#000000" stroke-width="0.8" stroke-linejoin="miter"/>
<polygon points="559.73,2.46 557.78,5.66 561.68,5.66" fill="none" stroke="#000000" stroke-width="0.8" stroke-linejoin="miter"/>
<polygon points="566.57,2.47 564.62,5.67 568.52,5.67" fill="none" stroke="#000000" stroke-width="0.8" stroke-linejoin="miter"/>
<polygon points="573.41,2.48 571.46,5.68 575.36,5.68" fill="none" stroke="#000000" stroke-width="0.8" stroke-linejoin="miter"/>
<polygon points="580.25,2.46 578.3,5.66 582.2,5.66" fill="none" stroke="#000000" stroke-width="0.8" stroke-linejoin="miter"/>
<polygon points="587.09,2.45 585.14,5.65 589.04,5.65" fill="none" stroke="#000000" stroke-width="0.8" stroke-linejoin="miter"/>
<polygon points="593.93,2.47 591.98,5.67 595.88,5.67" fill="none" stroke="#000000" stroke-width="0.8" stroke-linejoin="miter"/>
<polygon points="600.77,2.49 598.82,5.69 602.72,5.69" fill="none" stroke="#000000" stroke-width="0.8" stroke-linejoin="miter"/>
<polygon points="607.61,2.45 605.66,5.65 609.56,5.65" fill="none" stroke="#000000" stroke-width="0.8" stroke-linejoin="miter"/>
<polygon points="614.45,2.44 612.5,5.64 616.4,5.64" fill="none" stroke="#000000" stroke-width="0.8" stroke-linejoin="miter"/>
<polygon points="621.29,2.48 619.34,5.68 623.24,5.68" fill="none" stroke="#000000" stroke-width="0.8" stroke-linejoin="miter"/>
<polygon points="628.13,2.5 626.18,5.7 630.08,5.7" fill="none" stroke="#000000" stroke-width="0.8" stroke-linejoin="miter"/>
<polygon points="634.43,2.46 632.48,5.66 636.38,5.66" fill="none" stroke="#000000" stroke-width="0.8" stroke-linejoin="miter"/>
<polygon points="640.74,2.44 638.79,5.64 642.69,5.64" fill="none" stroke="#000000" stroke-width="0.8" stroke-linejoin="miter"/>
<polygon points="647.05,2.48 645.1,5.68 649,5.68" fill="none" stroke="#000000" stroke-width="0.8" stroke-linejoin="miter"/>
<polygon points="653.36,2.51 651.41,5.71 655.31,5.71" fill="none" stroke="#000000" stroke-width="0.8" stroke-linejoin="miter"/>
<polygon points="659.52,2.46 657.57,5.66 661.47,5.66" fill="none" stroke="#000000" stroke-width="0.8" stroke-linejoin="miter"/>
<polygon points="665.68,2.44 663.73,5.64 667.63,5.64" fill="none" stroke="#000000" stroke-width="0.8" stroke-linejoin="miter"/>
<polygon points="671.84,2.48 669.89,5.68 673.79,5.68" fill="none" stroke="#000000" stroke-width="0.8" stroke-linejoin="miter"/>
<polygon points="678,2.51 676.05,5.71 679.95,5.71" fill="none" stroke="#000000" stroke-width="0.8" stroke-linejoin="miter"/>
<polyline points="404.4,52.25 404.87,51.55 405.33,50.85 405.8,50.14 406.27,49.43 408.54,45.96 410.81,42.5 413.08,39.11 415.36,35.83 417.33,33.1 419.3,30.52 421.27,28.09 423.24,25.82 425.21,23.73 427.19,21.8 429.16,20.04 431.13,18.45 434.02,16.39 436.91,14.63 439.81,13.14 442.7,11.89 446.45,10.55 450.21,9.48 453.97,8.62 457.72,7.92 460.3,7.52 462.87,7.17 465.45,6.86 468.02,6.59 470.6,6.36 473.17,6.15 475.75,5.96 478.32,5.8 481.23,5.64 484.14,5.5 487.05,5.38 489.96,5.28 493.45,5.17 496.94,5.08 500.43,5.01 503.92,4.94 508.41,4.87 512.89,4.82 517.38,4.78 521.86,4.74 527.91,4.71 533.95,4.68 540,4.66 546.05,4.64 552.89,4.63 559.73,4.62 566.57,4.62 573.41,4.61 580.25,4.61 587.09,4.61 593.93,4.6 600.77,4.6 607.61,4.6 614.45,4.6 621.29,4.6 628.13,4.6 634.43,4.6 640.74,4.6 647.05,4.6 653.36,4.6 659.52,4.6 665.68,4.6 671.84,4.6 678,4.6" fill="none" stroke="#000000" stroke-width="0.75"/>
<rect x="643.3" y="8.4" width="28.700000000000045" height="25.1" fill="#fff" stroke="#6a6a6a" stroke-width="0.6"/>
<line x1="645.3" y1="13.6" x2="665.1" y2="13.6" stroke="#000000" stroke-width="0.85" />
<circle cx="655.3" cy="13.6" r="1.5" fill="none" stroke="#000000" stroke-width="0.8"/>
<text x="667.0999999999999" y="16.1" font-family="'Liberation Sans', sans-serif" font-size="6.5" fill="#222">x</text>
<line x1="645.3" y1="21" x2="665.1" y2="21" stroke="#000000" stroke-width="0.85" />
<polygon points="655.3,18.87 653.35,22.07 657.25,22.07" fill="none" stroke="#000000" stroke-width="0.8" stroke-linejoin="miter"/>
<text x="667.0999999999999" y="23.5" font-family="'Liberation Sans', sans-serif" font-size="6.5" fill="#222">y</text>
<line x1="645.3" y1="28.9" x2="665.1" y2="28.9" stroke="#000000" stroke-width="0.85" />
<text x="667.0999999999999" y="31.4" font-family="'Liberation Sans', sans-serif" font-size="6.5" fill="#222">z</text>
<line x1="438.76" y1="123.4" x2="438.76" y2="218.7" stroke="#e3e3e3" stroke-width="0.7" />
<line x1="473.02" y1="123.4" x2="473.02" y2="218.7" stroke="#e3e3e3" stroke-width="0.7" />
<line x1="507.29" y1="123.4" x2="507.29" y2="218.7" stroke="#e3e3e3" stroke-width="0.7" />
<line x1="541.55" y1="123.4" x2="541.55" y2="218.7" stroke="#e3e3e3" stroke-width="0.7" />
<line x1="575.81" y1="123.4" x2="575.81" y2="218.7" stroke="#e3e3e3" stroke-width="0.7" />
<line x1="610.08" y1="123.4" x2="610.08" y2="218.7" stroke="#e3e3e3" stroke-width="0.7" />
<line x1="644.34" y1="123.4" x2="644.34" y2="218.7" stroke="#e3e3e3" stroke-width="0.7" />
<line x1="678.6" y1="123.4" x2="678.6" y2="218.7" stroke="#e3e3e3" stroke-width="0.7" />
<line x1="404.5" y1="199.64" x2="678.6" y2="199.64" stroke="#e3e3e3" stroke-width="0.7" />
<line x1="404.5" y1="180.58" x2="678.6" y2="180.58" stroke="#e3e3e3" stroke-width="0.7" />
<line x1="404.5" y1="161.52" x2="678.6" y2="161.52" stroke="#e3e3e3" stroke-width="0.7" />
<line x1="404.5" y1="142.46" x2="678.6" y2="142.46" stroke="#e3e3e3" stroke-width="0.7" />
<line x1="404.5" y1="123.4" x2="678.6" y2="123.4" stroke="#e3e3e3" stroke-width="0.7" />
<rect x="404.5" y="123.4" width="274.1" height="95.29999999999998" fill="none" stroke="#666666" stroke-width="0.8"/>
<line x1="404.5" y1="218.7" x2="404.5" y2="216" stroke="#666666" stroke-width="0.7" />
<line x1="404.5" y1="123.4" x2="404.5" y2="126.1" stroke="#666666" stroke-width="0.7" />
<text x="404.5" y="228.5" font-family="'Liberation Sans', sans-serif" font-size="7" fill="#333" text-anchor="middle">0</text>
<line x1="438.76" y1="218.7" x2="438.76" y2="216" stroke="#666666" stroke-width="0.7" />
<line x1="438.76" y1="123.4" x2="438.76" y2="126.1" stroke="#666666" stroke-width="0.7" />
<text x="438.76" y="228.5" font-family="'Liberation Sans', sans-serif" font-size="7" fill="#333" text-anchor="middle">0.5</text>
<line x1="473.02" y1="218.7" x2="473.02" y2="216" stroke="#666666" stroke-width="0.7" />
<line x1="473.02" y1="123.4" x2="473.02" y2="126.1" stroke="#666666" stroke-width="0.7" />
<text x="473.02" y="228.5" font-family="'Liberation Sans', sans-serif" font-size="7" fill="#333" text-anchor="middle">1</text>
<line x1="507.29" y1="218.7" x2="507.29" y2="216" stroke="#666666" stroke-width="0.7" />
<line x1="507.29" y1="123.4" x2="507.29" y2="126.1" stroke="#666666" stroke-width="0.7" />
<text x="507.29" y="228.5" font-family="'Liberation Sans', sans-serif" font-size="7" fill="#333" text-anchor="middle">1.5</text>
<line x1="541.55" y1="218.7" x2="541.55" y2="216" stroke="#666666" stroke-width="0.7" />
<line x1="541.55" y1="123.4" x2="541.55" y2="126.1" stroke="#666666" stroke-width="0.7" />
<text x="541.55" y="228.5" font-family="'Liberation Sans', sans-serif" font-size="7" fill="#333" text-anchor="middle">2</text>
<line x1="575.81" y1="218.7" x2="575.81" y2="216" stroke="#666666" stroke-width="0.7" />
<line x1="575.81" y1="123.4" x2="575.81" y2="126.1" stroke="#666666" stroke-width="0.7" />
<text x="575.81" y="228.5" font-family="'Liberation Sans', sans-serif" font-size="7" fill="#333" text-anchor="middle">2.5</text>
<line x1="610.08" y1="218.7" x2="610.08" y2="216" stroke="#666666" stroke-width="0.7" />
<line x1="610.08" y1="123.4" x2="610.08" y2="126.1" stroke="#666666" stroke-width="0.7" />
<text x="610.08" y="228.5" font-family="'Liberation Sans', sans-serif" font-size="7" fill="#333" text-anchor="middle">3</text>
<line x1="644.34" y1="218.7" x2="644.34" y2="216" stroke="#666666" stroke-width="0.7" />
<line x1="644.34" y1="123.4" x2="644.34" y2="126.1" stroke="#666666" stroke-width="0.7" />
<text x="644.34" y="228.5" font-family="'Liberation Sans', sans-serif" font-size="7" fill="#333" text-anchor="middle">3.5</text>
<line x1="678.6" y1="218.7" x2="678.6" y2="216" stroke="#666666" stroke-width="0.7" />
<line x1="678.6" y1="123.4" x2="678.6" y2="126.1" stroke="#666666" stroke-width="0.7" />
<text x="678.6" y="228.5" font-family="'Liberation Sans', sans-serif" font-size="7" fill="#333" text-anchor="middle">4</text>
<line x1="404.5" y1="218.7" x2="407.2" y2="218.7" stroke="#666666" stroke-width="0.7" />
<line x1="678.6" y1="218.7" x2="675.9" y2="218.7" stroke="#666666" stroke-width="0.7" />
<text x="401.3" y="221.5" font-family="'Liberation Sans', sans-serif" font-size="7" fill="#333" text-anchor="end">0</text>
<line x1="404.5" y1="199.64" x2="407.2" y2="199.64" stroke="#666666" stroke-width="0.7" />
<line x1="678.6" y1="199.64" x2="675.9" y2="199.64" stroke="#666666" stroke-width="0.7" />
<text x="401.3" y="202.44" font-family="'Liberation Sans', sans-serif" font-size="7" fill="#333" text-anchor="end">0.2</text>
<line x1="404.5" y1="180.58" x2="407.2" y2="180.58" stroke="#666666" stroke-width="0.7" />
<line x1="678.6" y1="180.58" x2="675.9" y2="180.58" stroke="#666666" stroke-width="0.7" />
<text x="401.3" y="183.38" font-family="'Liberation Sans', sans-serif" font-size="7" fill="#333" text-anchor="end">0.4</text>
<line x1="404.5" y1="161.52" x2="407.2" y2="161.52" stroke="#666666" stroke-width="0.7" />
<line x1="678.6" y1="161.52" x2="675.9" y2="161.52" stroke="#666666" stroke-width="0.7" />
<text x="401.3" y="164.32" font-family="'Liberation Sans', sans-serif" font-size="7" fill="#333" text-anchor="end">0.6</text>
<line x1="404.5" y1="142.46" x2="407.2" y2="142.46" stroke="#666666" stroke-width="0.7" />
<line x1="678.6" y1="142.46" x2="675.9" y2="142.46" stroke="#666666" stroke-width="0.7" />
<text x="401.3" y="145.26" font-family="'Liberation Sans', sans-serif" font-size="7" fill="#333" text-anchor="end">0.8</text>
<line x1="404.5" y1="123.4" x2="407.2" y2="123.4" stroke="#666666" stroke-width="0.7" />
<line x1="678.6" y1="123.4" x2="675.9" y2="123.4" stroke="#666666" stroke-width="0.7" />
<text x="401.3" y="126.2" font-family="'Liberation Sans', sans-serif" font-size="7" fill="#333" text-anchor="end">1</text>
<text x="541.55" y="236.7" font-family="'Liberation Serif', serif" font-style="italic" font-size="7.5" fill="#333" text-anchor="middle" letter-spacing="1">Time</text>
<text transform="translate(386.5,170.05) rotate(-90)" font-family="'Liberation Serif', serif" font-style="italic" font-size="7.5" fill="#333" text-anchor="middle">Probability</text>
<polyline points="404.5,199.64 404.69,198.73 404.88,197.79 405.07,196.82 405.26,195.82 406.21,190.36 407.15,184.23 408.1,177.62 409.05,170.79 410.12,163.14 411.2,155.97 412.28,149.56 413.35,144.08 414.45,139.47 415.54,135.77 416.64,132.87 417.74,130.64 418.92,128.81 420.11,127.45 421.3,126.44 422.49,125.7 423.76,125.11 425.03,124.69 426.3,124.38 427.57,124.15 429.28,123.93 430.98,123.78 432.69,123.67 434.39,123.6 436.77,123.54 439.15,123.49 441.54,123.47 443.92,123.45 447.42,123.43 450.92,123.42 454.42,123.41 457.93,123.41 461.38,123.41 464.83,123.41 468.29,123.4 471.74,123.4 475.69,123.4 479.63,123.4 483.58,123.4 487.52,123.4 491.19,123.4 494.86,123.4 498.53,123.4 502.2,123.4 504.63,123.4 507.06,123.4 509.49,123.4 511.92,123.4 514.34,123.4 516.77,123.4 519.2,123.4 521.63,123.4 524.08,123.4 526.53,123.4 528.98,123.4 531.44,123.4 534.27,123.4 537.1,123.4 539.93,123.4 542.76,123.4 546.27,123.4 549.77,123.4 553.28,123.4 556.78,123.4 561.35,123.4 565.92,123.4 570.48,123.4 575.05,123.4 581.28,123.4 587.5,123.4 593.73,123.4 599.95,123.4 606.81,123.4 613.66,123.4 620.51,123.4 627.36,123.4 634.22,123.4 641.07,123.4 647.92,123.4 654.77,123.4 660.73,123.4 666.69,123.4 672.64,123.4 678.6,123.4" fill="none" stroke="#0000ff" stroke-width="0.75"/>
<circle cx="404.5" cy="199.64" r="1.5" fill="none" stroke="#0000ff" stroke-width="0.8"/>
<circle cx="404.69" cy="198.73" r="1.5" fill="none" stroke="#0000ff" stroke-width="0.8"/>
<circle cx="404.88" cy="197.79" r="1.5" fill="none" stroke="#0000ff" stroke-width="0.8"/>
<circle cx="405.07" cy="196.82" r="1.5" fill="none" stroke="#0000ff" stroke-width="0.8"/>
<circle cx="405.26" cy="195.82" r="1.5" fill="none" stroke="#0000ff" stroke-width="0.8"/>
<circle cx="406.21" cy="190.36" r="1.5" fill="none" stroke="#0000ff" stroke-width="0.8"/>
<circle cx="407.15" cy="184.23" r="1.5" fill="none" stroke="#0000ff" stroke-width="0.8"/>
<circle cx="408.1" cy="177.62" r="1.5" fill="none" stroke="#0000ff" stroke-width="0.8"/>
<circle cx="409.05" cy="170.79" r="1.5" fill="none" stroke="#0000ff" stroke-width="0.8"/>
<circle cx="410.12" cy="163.14" r="1.5" fill="none" stroke="#0000ff" stroke-width="0.8"/>
<circle cx="411.2" cy="155.97" r="1.5" fill="none" stroke="#0000ff" stroke-width="0.8"/>
<circle cx="412.28" cy="149.56" r="1.5" fill="none" stroke="#0000ff" stroke-width="0.8"/>
<circle cx="413.35" cy="144.08" r="1.5" fill="none" stroke="#0000ff" stroke-width="0.8"/>
<circle cx="414.45" cy="139.47" r="1.5" fill="none" stroke="#0000ff" stroke-width="0.8"/>
<circle cx="415.54" cy="135.77" r="1.5" fill="none" stroke="#0000ff" stroke-width="0.8"/>
<circle cx="416.64" cy="132.87" r="1.5" fill="none" stroke="#0000ff" stroke-width="0.8"/>
<circle cx="417.74" cy="130.64" r="1.5" fill="none" stroke="#0000ff" stroke-width="0.8"/>
<circle cx="418.92" cy="128.81" r="1.5" fill="none" stroke="#0000ff" stroke-width="0.8"/>
<circle cx="420.11" cy="127.45" r="1.5" fill="none" stroke="#0000ff" stroke-width="0.8"/>
<circle cx="421.3" cy="126.44" r="1.5" fill="none" stroke="#0000ff" stroke-width="0.8"/>
<circle cx="422.49" cy="125.7" r="1.5" fill="none" stroke="#0000ff" stroke-width="0.8"/>
<circle cx="423.76" cy="125.11" r="1.5" fill="none" stroke="#0000ff" stroke-width="0.8"/>
<circle cx="425.03" cy="124.69" r="1.5" fill="none" stroke="#0000ff" stroke-width="0.8"/>
<circle cx="426.3" cy="124.38" r="1.5" fill="none" stroke="#0000ff" stroke-width="0.8"/>
<circle cx="427.57" cy="124.15" r="1.5" fill="none" stroke="#0000ff" stroke-width="0.8"/>
<circle cx="429.28" cy="123.93" r="1.5" fill="none" stroke="#0000ff" stroke-width="0.8"/>
<circle cx="430.98" cy="123.78" r="1.5" fill="none" stroke="#0000ff" stroke-width="0.8"/>
<circle cx="432.69" cy="123.67" r="1.5" fill="none" stroke="#0000ff" stroke-width="0.8"/>
<circle cx="434.39" cy="123.6" r="1.5" fill="none" stroke="#0000ff" stroke-width="0.8"/>
<circle cx="436.77" cy="123.54" r="1.5" fill="none" stroke="#0000ff" stroke-width="0.8"/>
<circle cx="439.15" cy="123.49" r="1.5" fill="none" stroke="#0000ff" stroke-width="0.8"/>
<circle cx="441.54" cy="123.47" r="1.5" fill="none" stroke="#0000ff" stroke-width="0.8"/>
<circle cx="443.92" cy="123.45" r="1.5" fill="none" stroke="#0000ff" stroke-width="0.8"/>
<circle cx="447.42" cy="123.43" r="1.5" fill="none" stroke="#0000ff" stroke-width="0.8"/>
<circle cx="450.92" cy="123.42" r="1.5" fill="none" stroke="#0000ff" stroke-width="0.8"/>
<circle cx="454.42" cy="123.41" r="1.5" fill="none" stroke="#0000ff" stroke-width="0.8"/>
<circle cx="457.93" cy="123.41" r="1.5" fill="none" stroke="#0000ff" stroke-width="0.8"/>
<circle cx="461.38" cy="123.41" r="1.5" fill="none" stroke="#0000ff" stroke-width="0.8"/>
<circle cx="464.83" cy="123.41" r="1.5" fill="none" stroke="#0000ff" stroke-width="0.8"/>
<circle cx="468.29" cy="123.4" r="1.5" fill="none" stroke="#0000ff" stroke-width="0.8"/>
<circle cx="471.74" cy="123.4" r="1.5" fill="none" stroke="#0000ff" stroke-width="0.8"/>
<circle cx="475.69" cy="123.4" r="1.5" fill="none" stroke="#0000ff" stroke-width="0.8"/>
<circle cx="479.63" cy="123.4" r="1.5" fill="none" stroke="#0000ff" stroke-width="0.8"/>
<circle cx="483.58" cy="123.4" r="1.5" fill="none" stroke="#0000ff" stroke-width="0.8"/>
<circle cx="487.52" cy="123.4" r="1.5" fill="none" stroke="#0000ff" stroke-width="0.8"/>
<circle cx="491.19" cy="123.4" r="1.5" fill="none" stroke="#0000ff" stroke-width="0.8"/>
<circle cx="494.86" cy="123.4" r="1.5" fill="none" stroke="#0000ff" stroke-width="0.8"/>
<circle cx="498.53" cy="123.4" r="1.5" fill="none" stroke="#0000ff" stroke-width="0.8"/>
<circle cx="502.2" cy="123.4" r="1.5" fill="none" stroke="#0000ff" stroke-width="0.8"/>
<circle cx="504.63" cy="123.4" r="1.5" fill="none" stroke="#0000ff" stroke-width="0.8"/>
<circle cx="507.06" cy="123.4" r="1.5" fill="none" stroke="#0000ff" stroke-width="0.8"/>
<circle cx="509.49" cy="123.4" r="1.5" fill="none" stroke="#0000ff" stroke-width="0.8"/>
<circle cx="511.92" cy="123.4" r="1.5" fill="none" stroke="#0000ff" stroke-width="0.8"/>
<circle cx="514.34" cy="123.4" r="1.5" fill="none" stroke="#0000ff" stroke-width="0.8"/>
<circle cx="516.77" cy="123.4" r="1.5" fill="none" stroke="#0000ff" stroke-width="0.8"/>
<circle cx="519.2" cy="123.4" r="1.5" fill="none" stroke="#0000ff" stroke-width="0.8"/>
<circle cx="521.63" cy="123.4" r="1.5" fill="none" stroke="#0000ff" stroke-width="0.8"/>
<circle cx="524.08" cy="123.4" r="1.5" fill="none" stroke="#0000ff" stroke-width="0.8"/>
<circle cx="526.53" cy="123.4" r="1.5" fill="none" stroke="#0000ff" stroke-width="0.8"/>
<circle cx="528.98" cy="123.4" r="1.5" fill="none" stroke="#0000ff" stroke-width="0.8"/>
<circle cx="531.44" cy="123.4" r="1.5" fill="none" stroke="#0000ff" stroke-width="0.8"/>
<circle cx="534.27" cy="123.4" r="1.5" fill="none" stroke="#0000ff" stroke-width="0.8"/>
<circle cx="537.1" cy="123.4" r="1.5" fill="none" stroke="#0000ff" stroke-width="0.8"/>
<circle cx="539.93" cy="123.4" r="1.5" fill="none" stroke="#0000ff" stroke-width="0.8"/>
<circle cx="542.76" cy="123.4" r="1.5" fill="none" stroke="#0000ff" stroke-width="0.8"/>
<circle cx="546.27" cy="123.4" r="1.5" fill="none" stroke="#0000ff" stroke-width="0.8"/>
<circle cx="549.77" cy="123.4" r="1.5" fill="none" stroke="#0000ff" stroke-width="0.8"/>
<circle cx="553.28" cy="123.4" r="1.5" fill="none" stroke="#0000ff" stroke-width="0.8"/>
<circle cx="556.78" cy="123.4" r="1.5" fill="none" stroke="#0000ff" stroke-width="0.8"/>
<circle cx="561.35" cy="123.4" r="1.5" fill="none" stroke="#0000ff" stroke-width="0.8"/>
<circle cx="565.92" cy="123.4" r="1.5" fill="none" stroke="#0000ff" stroke-width="0.8"/>
<circle cx="570.48" cy="123.4" r="1.5" fill="none" stroke="#0000ff" stroke-width="0.8"/>
<circle cx="575.05" cy="123.4" r="1.5" fill="none" stroke="#0000ff" stroke-width="0.8"/>
<circle cx="581.28" cy="123.4" r="1.5" fill="none" stroke="#0000ff" stroke-width="0.8"/>
<circle cx="587.5" cy="123.4" r="1.5" fill="none" stroke="#0000ff" stroke-width="0.8"/>
<circle cx="593.73" cy="123.4" r="1.5" fill="none" stroke="#0000ff" stroke-width="0.8"/>
<circle cx="599.95" cy="123.4" r="1.5" fill="none" stroke="#0000ff" stroke-width="0.8"/>
<circle cx="606.81" cy="123.4" r="1.5" fill="none" stroke="#0000ff" stroke-width="0.8"/>
<circle cx="613.66" cy="123.4" r="1.5" fill="none" stroke="#0000ff" stroke-width="0.8"/>
<circle cx="620.51" cy="123.4" r="1.5" fill="none" stroke="#0000ff" stroke-width="0.8"/>
<circle cx="627.36" cy="123.4" r="1.5" fill="none" stroke="#0000ff" stroke-width="0.8"/>
<circle cx="634.22" cy="123.4" r="1.5" fill="none" stroke="#0000ff" stroke-width="0.8"/>
<circle cx="641.07" cy="123.4" r="1.5" fill="none" stroke="#0000ff" stroke-width="0.8"/>
<circle cx="647.92" cy="123.4" r="1.5" fill="none" stroke="#0000ff" stroke-width="0.8"/>
<circle cx="654.77" cy="123.4" r="1.5" fill="none" stroke="#0000ff" stroke-width="0.8"/>
<circle cx="660.73" cy="123.4" r="1.5" fill="none" stroke="#0000ff" stroke-width="0.8"/>
<circle cx="666.69" cy="123.4" r="1.5" fill="none" stroke="#0000ff" stroke-width="0.8"/>
<circle cx="672.64" cy="123.4" r="1.5" fill="none" stroke="#0000ff" stroke-width="0.8"/>
<circle cx="678.6" cy="123.4" r="1.5" fill="none" stroke="#0000ff" stroke-width="0.8"/>
<polyline points="404.5,199.64 404.69,200.34 404.88,201.01 405.07,201.66 405.26,202.29 406.21,205.12 407.15,207.46 408.1,209.38 409.05,210.94 410.12,212.36 411.2,213.49 412.28,214.38 413.35,215.08 414.45,215.66 415.54,216.12 416.64,216.49 417.74,216.79 418.92,217.05 420.11,217.26 421.3,217.43 422.49,217.56 423.76,217.68 425.03,217.78 426.3,217.85 427.57,217.91 429.28,217.97 430.98,218.01 432.69,218.04 434.39,218.05 436.77,218.04 439.15,218.02 441.54,217.97 443.92,217.89 447.42,217.73 450.92,217.47 454.42,217.1 457.93,216.56 461.38,215.78 464.83,214.67 468.29,213.09 471.74,210.85 475.69,207.25 479.63,202.13 483.58,195.2 487.52,186.44 491.19,176.89 494.86,166.68 498.53,156.68 502.2,147.69 504.63,142.64 507.06,138.36 509.49,134.86 511.92,132.08 514.34,129.89 516.77,128.22 519.2,126.96 521.63,126.02 524.08,125.31 526.53,124.79 528.98,124.41 531.44,124.14 534.27,123.9 537.1,123.75 539.93,123.64 542.76,123.57 546.27,123.5 549.77,123.46 553.28,123.44 556.78,123.43 561.35,123.41 565.92,123.41 570.48,123.41 575.05,123.41 581.28,123.4 587.5,123.4 593.73,123.4 599.95,123.41 606.81,123.39 613.66,123.39 620.51,123.4 627.36,123.41 634.22,123.39 641.07,123.39 647.92,123.41 654.77,123.42 660.73,123.4 666.69,123.39 672.64,123.41 678.6,123.42" fill="none" stroke="#0000ff" stroke-width="0.75"/>
<polygon points="404.5,197.51 402.55,200.71 406.45,200.71" fill="none" stroke="#0000ff" stroke-width="0.8" stroke-linejoin="miter"/>
<polygon points="404.69,198.2 402.74,201.4 406.64,201.4" fill="none" stroke="#0000ff" stroke-width="0.8" stroke-linejoin="miter"/>
<polygon points="404.88,198.88 402.93,202.08 406.83,202.08" fill="none" stroke="#0000ff" stroke-width="0.8" stroke-linejoin="miter"/>
<polygon points="405.07,199.53 403.12,202.73 407.02,202.73" fill="none" stroke="#0000ff" stroke-width="0.8" stroke-linejoin="miter"/>
<polygon points="405.26,200.16 403.31,203.36 407.21,203.36" fill="none" stroke="#0000ff" stroke-width="0.8" stroke-linejoin="miter"/>
<polygon points="406.21,202.99 404.26,206.19 408.16,206.19" fill="none" stroke="#0000ff" stroke-width="0.8" stroke-linejoin="miter"/>
<polygon points="407.15,205.33 405.2,208.53 409.1,208.53" fill="none" stroke="#0000ff" stroke-width="0.8" stroke-linejoin="miter"/>
<polygon points="408.1,207.24 406.15,210.44 410.05,210.44" fill="none" stroke="#0000ff" stroke-width="0.8" stroke-linejoin="miter"/>
<polygon points="409.05,208.81 407.1,212.01 411,212.01" fill="none" stroke="#0000ff" stroke-width="0.8" stroke-linejoin="miter"/>
<polygon points="410.12,210.23 408.17,213.43 412.07,213.43" fill="none" stroke="#0000ff" stroke-width="0.8" stroke-linejoin="miter"/>
<polygon points="411.2,211.35 409.25,214.55 413.15,214.55" fill="none" stroke="#0000ff" stroke-width="0.8" stroke-linejoin="miter"/>
<polygon points="412.28,212.24 410.33,215.44 414.23,215.44" fill="none" stroke="#0000ff" stroke-width="0.8" stroke-linejoin="miter"/>
<polygon points="413.35,212.95 411.4,216.15 415.3,216.15" fill="none" stroke="#0000ff" stroke-width="0.8" stroke-linejoin="miter"/>
<polygon points="414.45,213.52 412.5,216.72 416.4,216.72" fill="none" stroke="#0000ff" stroke-width="0.8" stroke-linejoin="miter"/>
<polygon points="415.54,213.98 413.59,217.18 417.49,217.18" fill="none" stroke="#0000ff" stroke-width="0.8" stroke-linejoin="miter"/>
<polygon points="416.64,214.35 414.69,217.55 418.59,217.55" fill="none" stroke="#0000ff" stroke-width="0.8" stroke-linejoin="miter"/>
<polygon points="417.74,214.65 415.79,217.85 419.69,217.85" fill="none" stroke="#0000ff" stroke-width="0.8" stroke-linejoin="miter"/>
<polygon points="418.92,214.91 416.97,218.11 420.87,218.11" fill="none" stroke="#0000ff" stroke-width="0.8" stroke-linejoin="miter"/>
<polygon points="420.11,215.12 418.16,218.32 422.06,218.32" fill="none" stroke="#0000ff" stroke-width="0.8" stroke-linejoin="miter"/>
<polygon points="421.3,215.29 419.35,218.49 423.25,218.49" fill="none" stroke="#0000ff" stroke-width="0.8" stroke-linejoin="miter"/>
<polygon points="422.49,215.43 420.54,218.63 424.44,218.63" fill="none" stroke="#0000ff" stroke-width="0.8" stroke-linejoin="miter"/>
<polygon points="423.76,215.55 421.81,218.75 425.71,218.75" fill="none" stroke="#0000ff" stroke-width="0.8" stroke-linejoin="miter"/>
<polygon points="425.03,215.64 423.08,218.84 426.98,218.84" fill="none" stroke="#0000ff" stroke-width="0.8" stroke-linejoin="miter"/>
<polygon points="426.3,215.72 424.35,218.92 428.25,218.92" fill="none" stroke="#0000ff" stroke-width="0.8" stroke-linejoin="miter"/>
<polygon points="427.57,215.78 425.62,218.98 429.52,218.98" fill="none" stroke="#0000ff" stroke-width="0.8" stroke-linejoin="miter"/>
<polygon points="429.28,215.84 427.33,219.04 431.23,219.04" fill="none" stroke="#0000ff" stroke-width="0.8" stroke-linejoin="miter"/>
<polygon points="430.98,215.88 429.03,219.08 432.93,219.08" fill="none" stroke="#0000ff" stroke-width="0.8" stroke-linejoin="miter"/>
<polygon points="432.69,215.9 430.74,219.1 434.64,219.1" fill="none" stroke="#0000ff" stroke-width="0.8" stroke-linejoin="miter"/>
<polygon points="434.39,215.91 432.44,219.11 436.34,219.11" fill="none" stroke="#0000ff" stroke-width="0.8" stroke-linejoin="miter"/>
<polygon points="436.77,215.91 434.82,219.11 438.72,219.11" fill="none" stroke="#0000ff" stroke-width="0.8" stroke-linejoin="miter"/>
<polygon points="439.15,215.88 437.2,219.08 441.1,219.08" fill="none" stroke="#0000ff" stroke-width="0.8" stroke-linejoin="miter"/>
<polygon points="441.54,215.83 439.59,219.03 443.49,219.03" fill="none" stroke="#0000ff" stroke-width="0.8" stroke-linejoin="miter"/>
<polygon points="443.92,215.76 441.97,218.96 445.87,218.96" fill="none" stroke="#0000ff" stroke-width="0.8" stroke-linejoin="miter"/>
<polygon points="447.42,215.59 445.47,218.79 449.37,218.79" fill="none" stroke="#0000ff" stroke-width="0.8" stroke-linejoin="miter"/>
<polygon points="450.92,215.34 448.97,218.54 452.87,218.54" fill="none" stroke="#0000ff" stroke-width="0.8" stroke-linejoin="miter"/>
<polygon points="454.42,214.97 452.47,218.17 456.37,218.17" fill="none" stroke="#0000ff" stroke-width="0.8" stroke-linejoin="miter"/>
<polygon points="457.93,214.42 455.98,217.62 459.88,217.62" fill="none" stroke="#0000ff" stroke-width="0.8" stroke-linejoin="miter"/>
<polygon points="461.38,213.65 459.43,216.85 463.33,216.85" fill="none" stroke="#0000ff" stroke-width="0.8" stroke-linejoin="miter"/>
<polygon points="464.83,212.54 462.88,215.74 466.78,215.74" fill="none" stroke="#0000ff" stroke-width="0.8" stroke-linejoin="miter"/>
<polygon points="468.29,210.95 466.34,214.15 470.24,214.15" fill="none" stroke="#0000ff" stroke-width="0.8" stroke-linejoin="miter"/>
<polygon points="471.74,208.72 469.79,211.92 473.69,211.92" fill="none" stroke="#0000ff" stroke-width="0.8" stroke-linejoin="miter"/>
<polygon points="475.69,205.12 473.74,208.32 477.64,208.32" fill="none" stroke="#0000ff" stroke-width="0.8" stroke-linejoin="miter"/>
<polygon points="479.63,200 477.68,203.2 481.58,203.2" fill="none" stroke="#0000ff" stroke-width="0.8" stroke-linejoin="miter"/>
<polygon points="483.58,193.07 481.63,196.27 485.53,196.27" fill="none" stroke="#0000ff" stroke-width="0.8" stroke-linejoin="miter"/>
<polygon points="487.52,184.31 485.57,187.51 489.47,187.51" fill="none" stroke="#0000ff" stroke-width="0.8" stroke-linejoin="miter"/>
<polygon points="491.19,174.75 489.24,177.95 493.14,177.95" fill="none" stroke="#0000ff" stroke-width="0.8" stroke-linejoin="miter"/>
<polygon points="494.86,164.55 492.91,167.75 496.81,167.75" fill="none" stroke="#0000ff" stroke-width="0.8" stroke-linejoin="miter"/>
<polygon points="498.53,154.55 496.58,157.75 500.48,157.75" fill="none" stroke="#0000ff" stroke-width="0.8" stroke-linejoin="miter"/>
<polygon points="502.2,145.56 500.25,148.76 504.15,148.76" fill="none" stroke="#0000ff" stroke-width="0.8" stroke-linejoin="miter"/>
<polygon points="504.63,140.5 502.68,143.7 506.58,143.7" fill="none" stroke="#0000ff" stroke-width="0.8" stroke-linejoin="miter"/>
<polygon points="507.06,136.23 505.11,139.43 509.01,139.43" fill="none" stroke="#0000ff" stroke-width="0.8" stroke-linejoin="miter"/>
<polygon points="509.49,132.73 507.54,135.93 511.44,135.93" fill="none" stroke="#0000ff" stroke-width="0.8" stroke-linejoin="miter"/>
<polygon points="511.92,129.94 509.97,133.14 513.87,133.14" fill="none" stroke="#0000ff" stroke-width="0.8" stroke-linejoin="miter"/>
<polygon points="514.34,127.76 512.39,130.96 516.29,130.96" fill="none" stroke="#0000ff" stroke-width="0.8" stroke-linejoin="miter"/>
<polygon points="516.77,126.09 514.82,129.29 518.72,129.29" fill="none" stroke="#0000ff" stroke-width="0.8" stroke-linejoin="miter"/>
<polygon points="519.2,124.82 517.25,128.02 521.15,128.02" fill="none" stroke="#0000ff" stroke-width="0.8" stroke-linejoin="miter"/>
<polygon points="521.63,123.89 519.68,127.09 523.58,127.09" fill="none" stroke="#0000ff" stroke-width="0.8" stroke-linejoin="miter"/>
<polygon points="524.08,123.18 522.13,126.38 526.03,126.38" fill="none" stroke="#0000ff" stroke-width="0.8" stroke-linejoin="miter"/>
<polygon points="526.53,122.65 524.58,125.85 528.48,125.85" fill="none" stroke="#0000ff" stroke-width="0.8" stroke-linejoin="miter"/>
<polygon points="528.98,122.28 527.03,125.48 530.93,125.48" fill="none" stroke="#0000ff" stroke-width="0.8" stroke-linejoin="miter"/>
<polygon points="531.44,122 529.49,125.2 533.39,125.2" fill="none" stroke="#0000ff" stroke-width="0.8" stroke-linejoin="miter"/>
<polygon points="534.27,121.77 532.32,124.97 536.22,124.97" fill="none" stroke="#0000ff" stroke-width="0.8" stroke-linejoin="miter"/>
<polygon points="537.1,121.61 535.15,124.81 539.05,124.81" fill="none" stroke="#0000ff" stroke-width="0.8" stroke-linejoin="miter"/>
<polygon points="539.93,121.51 537.98,124.71 541.88,124.71" fill="none" stroke="#0000ff" stroke-width="0.8" stroke-linejoin="miter"/>
<polygon points="542.76,121.44 540.81,124.64 544.71,124.64" fill="none" stroke="#0000ff" stroke-width="0.8" stroke-linejoin="miter"/>
<polygon points="546.27,121.37 544.32,124.57 548.22,124.57" fill="none" stroke="#0000ff" stroke-width="0.8" stroke-linejoin="miter"/>
<polygon points="549.77,121.33 547.82,124.53 551.72,124.53" fill="none" stroke="#0000ff" stroke-width="0.8" stroke-linejoin="miter"/>
<polygon points="553.28,121.31 551.33,124.51 555.23,124.51" fill="none" stroke="#0000ff" stroke-width="0.8" stroke-linejoin="miter"/>
<polygon points="556.78,121.3 554.83,124.5 558.73,124.5" fill="none" stroke="#0000ff" stroke-width="0.8" stroke-linejoin="miter"/>
<polygon points="561.35,121.28 559.4,124.48 563.3,124.48" fill="none" stroke="#0000ff" stroke-width="0.8" stroke-linejoin="miter"/>
<polygon points="565.92,121.27 563.97,124.47 567.87,124.47" fill="none" stroke="#0000ff" stroke-width="0.8" stroke-linejoin="miter"/>
<polygon points="570.48,121.27 568.53,124.47 572.43,124.47" fill="none" stroke="#0000ff" stroke-width="0.8" stroke-linejoin="miter"/>
<polygon points="575.05,121.27 573.1,124.47 577,124.47" fill="none" stroke="#0000ff" stroke-width="0.8" stroke-linejoin="miter"/>
<polygon points="581.28,121.27 579.33,124.47 583.23,124.47" fill="none" stroke="#0000ff" stroke-width="0.8" stroke-linejoin="miter"/>
<polygon points="587.5,121.26 585.55,124.46 589.45,124.46" fill="none" stroke="#0000ff" stroke-width="0.8" stroke-linejoin="miter"/>
<polygon points="593.73,121.27 591.78,124.47 595.68,124.47" fill="none" stroke="#0000ff" stroke-width="0.8" stroke-linejoin="miter"/>
<polygon points="599.95,121.27 598,124.47 601.9,124.47" fill="none" stroke="#0000ff" stroke-width="0.8" stroke-linejoin="miter"/>
<polygon points="606.81,121.26 604.86,124.46 608.76,124.46" fill="none" stroke="#0000ff" stroke-width="0.8" stroke-linejoin="miter"/>
<polygon points="613.66,121.26 611.71,124.46 615.61,124.46" fill="none" stroke="#0000ff" stroke-width="0.8" stroke-linejoin="miter"/>
<polygon points="620.51,121.27 618.56,124.47 622.46,124.47" fill="none" stroke="#0000ff" stroke-width="0.8" stroke-linejoin="miter"/>
<polygon points="627.36,121.28 625.41,124.48 629.31,124.48" fill="none" stroke="#0000ff" stroke-width="0.8" stroke-linejoin="miter"/>
<polygon points="634.22,121.26 632.27,124.46 636.17,124.46" fill="none" stroke="#0000ff" stroke-width="0.8" stroke-linejoin="miter"/>
<polygon points="641.07,121.25 639.12,124.45 643.02,124.45" fill="none" stroke="#0000ff" stroke-width="0.8" stroke-linejoin="miter"/>
<polygon points="647.92,121.28 645.97,124.48 649.87,124.48" fill="none" stroke="#0000ff" stroke-width="0.8" stroke-linejoin="miter"/>
<polygon points="654.77,121.29 652.82,124.49 656.72,124.49" fill="none" stroke="#0000ff" stroke-width="0.8" stroke-linejoin="miter"/>
<polygon points="660.73,121.27 658.78,124.47 662.68,124.47" fill="none" stroke="#0000ff" stroke-width="0.8" stroke-linejoin="miter"/>
<polygon points="666.69,121.26 664.74,124.46 668.64,124.46" fill="none" stroke="#0000ff" stroke-width="0.8" stroke-linejoin="miter"/>
<polygon points="672.64,121.27 670.69,124.47 674.59,124.47" fill="none" stroke="#0000ff" stroke-width="0.8" stroke-linejoin="miter"/>
<polygon points="678.6,121.28 676.65,124.48 680.55,124.48" fill="none" stroke="#0000ff" stroke-width="0.8" stroke-linejoin="miter"/>
<polyline points="404.5,199.64 404.69,199.43 404.88,199.23 405.07,199.02 405.26,198.8 406.21,197.71 407.15,196.56 408.1,195.36 409.05,194.1 410.12,192.62 411.2,191.07 412.28,189.46 413.35,187.8 414.45,186.05 415.54,184.25 416.64,182.41 417.74,180.53 418.92,178.46 420.11,176.35 421.3,174.23 422.49,172.08 423.76,169.79 425.03,167.49 426.3,165.21 427.57,162.96 429.28,160 430.98,157.12 432.69,154.35 434.39,151.71 436.77,148.24 439.15,145.06 441.54,142.18 443.92,139.6 447.42,136.33 450.92,133.63 454.42,131.45 457.93,129.7 461.38,128.32 464.83,127.24 468.29,126.39 471.74,125.73 475.69,125.16 479.63,124.73 483.58,124.41 487.52,124.17 491.19,124.01 494.86,123.88 498.53,123.79 502.2,123.72 504.63,123.68 507.06,123.64 509.49,123.61 511.92,123.59 514.34,123.57 516.77,123.55 519.2,123.53 521.63,123.51 524.08,123.5 526.53,123.49 528.98,123.48 531.44,123.47 534.27,123.46 537.1,123.45 539.93,123.45 542.76,123.44 546.27,123.43 549.77,123.43 553.28,123.42 556.78,123.42 561.35,123.42 565.92,123.41 570.48,123.41 575.05,123.41 581.28,123.41 587.5,123.4 593.73,123.4 599.95,123.4 606.81,123.4 613.66,123.4 620.51,123.4 627.36,123.4 634.22,123.4 641.07,123.4 647.92,123.4 654.77,123.4 660.73,123.4 666.69,123.4 672.64,123.4 678.6,123.4" fill="none" stroke="#0000ff" stroke-width="0.75"/>
<rect x="643.6" y="128" width="28.699999999999932" height="25" fill="#fff" stroke="#6a6a6a" stroke-width="0.6"/>
<line x1="645.6" y1="133.18" x2="665.4" y2="133.18" stroke="#0000ff" stroke-width="0.85" />
<circle cx="655.6" cy="133.18" r="1.5" fill="none" stroke="#0000ff" stroke-width="0.8"/>
<text x="667.4" y="135.68" font-family="'Liberation Sans', sans-serif" font-size="6.5" fill="#222">x</text>
<line x1="645.6" y1="140.55" x2="665.4" y2="140.55" stroke="#0000ff" stroke-width="0.85" />
<polygon points="655.6,138.42 653.65,141.62 657.55,141.62" fill="none" stroke="#0000ff" stroke-width="0.8" stroke-linejoin="miter"/>
<text x="667.4" y="143.05" font-family="'Liberation Sans', sans-serif" font-size="6.5" fill="#222">y</text>
<line x1="645.6" y1="148.42" x2="665.4" y2="148.42" stroke="#0000ff" stroke-width="0.85" />
<text x="667.4" y="150.92" font-family="'Liberation Sans', sans-serif" font-size="6.5" fill="#222">z</text>
<line x1="437.64" y1="244.7" x2="437.64" y2="338.9" stroke="#e3e3e3" stroke-width="0.7" />
<line x1="472.27" y1="244.7" x2="472.27" y2="338.9" stroke="#e3e3e3" stroke-width="0.7" />
<line x1="506.91" y1="244.7" x2="506.91" y2="338.9" stroke="#e3e3e3" stroke-width="0.7" />
<line x1="541.55" y1="244.7" x2="541.55" y2="338.9" stroke="#e3e3e3" stroke-width="0.7" />
<line x1="576.19" y1="244.7" x2="576.19" y2="338.9" stroke="#e3e3e3" stroke-width="0.7" />
<line x1="610.83" y1="244.7" x2="610.83" y2="338.9" stroke="#e3e3e3" stroke-width="0.7" />
<line x1="645.46" y1="244.7" x2="645.46" y2="338.9" stroke="#e3e3e3" stroke-width="0.7" />
<line x1="680.1" y1="244.7" x2="680.1" y2="338.9" stroke="#e3e3e3" stroke-width="0.7" />
<line x1="403" y1="320.06" x2="680.1" y2="320.06" stroke="#e3e3e3" stroke-width="0.7" />
<line x1="403" y1="301.22" x2="680.1" y2="301.22" stroke="#e3e3e3" stroke-width="0.7" />
<line x1="403" y1="282.38" x2="680.1" y2="282.38" stroke="#e3e3e3" stroke-width="0.7" />
<line x1="403" y1="263.54" x2="680.1" y2="263.54" stroke="#e3e3e3" stroke-width="0.7" />
<line x1="403" y1="244.7" x2="680.1" y2="244.7" stroke="#e3e3e3" stroke-width="0.7" />
<rect x="403.0" y="244.7" width="277.1" height="94.19999999999999" fill="none" stroke="#666666" stroke-width="0.8"/>
<line x1="403" y1="338.9" x2="403" y2="336.2" stroke="#666666" stroke-width="0.7" />
<line x1="403" y1="244.7" x2="403" y2="247.4" stroke="#666666" stroke-width="0.7" />
<text x="403" y="348.7" font-family="'Liberation Sans', sans-serif" font-size="7" fill="#333" text-anchor="middle">0</text>
<line x1="437.64" y1="338.9" x2="437.64" y2="336.2" stroke="#666666" stroke-width="0.7" />
<line x1="437.64" y1="244.7" x2="437.64" y2="247.4" stroke="#666666" stroke-width="0.7" />
<text x="437.64" y="348.7" font-family="'Liberation Sans', sans-serif" font-size="7" fill="#333" text-anchor="middle">0.5</text>
<line x1="472.27" y1="338.9" x2="472.27" y2="336.2" stroke="#666666" stroke-width="0.7" />
<line x1="472.27" y1="244.7" x2="472.27" y2="247.4" stroke="#666666" stroke-width="0.7" />
<text x="472.27" y="348.7" font-family="'Liberation Sans', sans-serif" font-size="7" fill="#333" text-anchor="middle">1</text>
<line x1="506.91" y1="338.9" x2="506.91" y2="336.2" stroke="#666666" stroke-width="0.7" />
<line x1="506.91" y1="244.7" x2="506.91" y2="247.4" stroke="#666666" stroke-width="0.7" />
<text x="506.91" y="348.7" font-family="'Liberation Sans', sans-serif" font-size="7" fill="#333" text-anchor="middle">1.5</text>
<line x1="541.55" y1="338.9" x2="541.55" y2="336.2" stroke="#666666" stroke-width="0.7" />
<line x1="541.55" y1="244.7" x2="541.55" y2="247.4" stroke="#666666" stroke-width="0.7" />
<text x="541.55" y="348.7" font-family="'Liberation Sans', sans-serif" font-size="7" fill="#333" text-anchor="middle">2</text>
<line x1="576.19" y1="338.9" x2="576.19" y2="336.2" stroke="#666666" stroke-width="0.7" />
<line x1="576.19" y1="244.7" x2="576.19" y2="247.4" stroke="#666666" stroke-width="0.7" />
<text x="576.19" y="348.7" font-family="'Liberation Sans', sans-serif" font-size="7" fill="#333" text-anchor="middle">2.5</text>
<line x1="610.83" y1="338.9" x2="610.83" y2="336.2" stroke="#666666" stroke-width="0.7" />
<line x1="610.83" y1="244.7" x2="610.83" y2="247.4" stroke="#666666" stroke-width="0.7" />
<text x="610.83" y="348.7" font-family="'Liberation Sans', sans-serif" font-size="7" fill="#333" text-anchor="middle">3</text>
<line x1="645.46" y1="338.9" x2="645.46" y2="336.2" stroke="#666666" stroke-width="0.7" />
<line x1="645.46" y1="244.7" x2="645.46" y2="247.4" stroke="#666666" stroke-width="0.7" />
<text x="645.46" y="348.7" font-family="'Liberation Sans', sans-serif" font-size="7" fill="#333" text-anchor="middle">3.5</text>
<line x1="680.1" y1="338.9" x2="680.1" y2="336.2" stroke="#666666" stroke-width="0.7" />
<line x1="680.1" y1="244.7" x2="680.1" y2="247.4" stroke="#666666" stroke-width="0.7" />
<text x="680.1" y="348.7" font-family="'Liberation Sans', sans-serif" font-size="7" fill="#333" text-anchor="middle">4</text>
<line x1="403" y1="338.9" x2="405.7" y2="338.9" stroke="#666666" stroke-width="0.7" />
<line x1="680.1" y1="338.9" x2="677.4" y2="338.9" stroke="#666666" stroke-width="0.7" />
<text x="399.8" y="341.7" font-family="'Liberation Sans', sans-serif" font-size="7" fill="#333" text-anchor="end">0</text>
<line x1="403" y1="320.06" x2="405.7" y2="320.06" stroke="#666666" stroke-width="0.7" />
<line x1="680.1" y1="320.06" x2="677.4" y2="320.06" stroke="#666666" stroke-width="0.7" />
<text x="399.8" y="322.86" font-family="'Liberation Sans', sans-serif" font-size="7" fill="#333" text-anchor="end">0.2</text>
<line x1="403" y1="301.22" x2="405.7" y2="301.22" stroke="#666666" stroke-width="0.7" />
<line x1="680.1" y1="301.22" x2="677.4" y2="301.22" stroke="#666666" stroke-width="0.7" />
<text x="399.8" y="304.02" font-family="'Liberation Sans', sans-serif" font-size="7" fill="#333" text-anchor="end">0.4</text>
<line x1="403" y1="282.38" x2="405.7" y2="282.38" stroke="#666666" stroke-width="0.7" />
<line x1="680.1" y1="282.38" x2="677.4" y2="282.38" stroke="#666666" stroke-width="0.7" />
<text x="399.8" y="285.18" font-family="'Liberation Sans', sans-serif" font-size="7" fill="#333" text-anchor="end">0.6</text>
<line x1="403" y1="263.54" x2="405.7" y2="263.54" stroke="#666666" stroke-width="0.7" />
<line x1="680.1" y1="263.54" x2="677.4" y2="263.54" stroke="#666666" stroke-width="0.7" />
<text x="399.8" y="266.34" font-family="'Liberation Sans', sans-serif" font-size="7" fill="#333" text-anchor="end">0.8</text>
<line x1="403" y1="244.7" x2="405.7" y2="244.7" stroke="#666666" stroke-width="0.7" />
<line x1="680.1" y1="244.7" x2="677.4" y2="244.7" stroke="#666666" stroke-width="0.7" />
<text x="399.8" y="247.5" font-family="'Liberation Sans', sans-serif" font-size="7" fill="#333" text-anchor="end">1</text>
<text x="541.55" y="356.9" font-family="'Liberation Serif', serif" font-style="italic" font-size="7.5" fill="#333" text-anchor="middle" letter-spacing="1">Time</text>
<text transform="translate(385,290.8) rotate(-90)" font-family="'Liberation Serif', serif" font-style="italic" font-size="7.5" fill="#333" text-anchor="middle">Probability</text>
<polyline points="403,263.54 405.26,260.23 407.53,257.52 409.79,255.31 412.05,253.52 415.45,251.44 418.85,249.89 422.24,248.75 425.64,247.88 429.55,247.13 433.46,246.57 437.37,246.16 441.28,245.85 444.58,245.64 447.87,245.47 451.16,245.33 454.45,245.22 458.37,245.11 462.29,245.03 466.21,244.96 470.12,244.91 475.04,244.86 479.95,244.82 484.87,244.79 489.78,244.77 496.37,244.75 502.96,244.73 509.55,244.72 516.13,244.72 523.06,244.71 529.99,244.71 536.92,244.71 543.84,244.7 550.77,244.7 557.7,244.7 564.63,244.7 571.55,244.7 578.38,244.7 585.21,244.7 592.04,244.7 598.87,244.7 604.93,244.7 610.98,244.7 617.04,244.7 623.1,244.7 628.66,244.7 634.22,244.7 639.79,244.7 645.35,244.7 651.26,244.7 657.17,244.7 663.08,244.7 668.99,244.7 671.76,244.7 674.54,244.7 677.32,244.7 680.1,244.7" fill="none" stroke="#ff0000" stroke-width="0.75"/>
<circle cx="403" cy="263.54" r="1.5" fill="none" stroke="#ff0000" stroke-width="0.8"/>
<circle cx="405.26" cy="260.23" r="1.5" fill="none" stroke="#ff0000" stroke-width="0.8"/>
<circle cx="407.53" cy="257.52" r="1.5" fill="none" stroke="#ff0000" stroke-width="0.8"/>
<circle cx="409.79" cy="255.31" r="1.5" fill="none" stroke="#ff0000" stroke-width="0.8"/>
<circle cx="412.05" cy="253.52" r="1.5" fill="none" stroke="#ff0000" stroke-width="0.8"/>
<circle cx="415.45" cy="251.44" r="1.5" fill="none" stroke="#ff0000" stroke-width="0.8"/>
<circle cx="418.85" cy="249.89" r="1.5" fill="none" stroke="#ff0000" stroke-width="0.8"/>
<circle cx="422.24" cy="248.75" r="1.5" fill="none" stroke="#ff0000" stroke-width="0.8"/>
<circle cx="425.64" cy="247.88" r="1.5" fill="none" stroke="#ff0000" stroke-width="0.8"/>
<circle cx="429.55" cy="247.13" r="1.5" fill="none" stroke="#ff0000" stroke-width="0.8"/>
<circle cx="433.46" cy="246.57" r="1.5" fill="none" stroke="#ff0000" stroke-width="0.8"/>
<circle cx="437.37" cy="246.16" r="1.5" fill="none" stroke="#ff0000" stroke-width="0.8"/>
<circle cx="441.28" cy="245.85" r="1.5" fill="none" stroke="#ff0000" stroke-width="0.8"/>
<circle cx="444.58" cy="245.64" r="1.5" fill="none" stroke="#ff0000" stroke-width="0.8"/>
<circle cx="447.87" cy="245.47" r="1.5" fill="none" stroke="#ff0000" stroke-width="0.8"/>
<circle cx="451.16" cy="245.33" r="1.5" fill="none" stroke="#ff0000" stroke-width="0.8"/>
<circle cx="454.45" cy="245.22" r="1.5" fill="none" stroke="#ff0000" stroke-width="0.8"/>
<circle cx="458.37" cy="245.11" r="1.5" fill="none" stroke="#ff0000" stroke-width="0.8"/>
<circle cx="462.29" cy="245.03" r="1.5" fill="none" stroke="#ff0000" stroke-width="0.8"/>
<circle cx="466.21" cy="244.96" r="1.5" fill="none" stroke="#ff0000" stroke-width="0.8"/>
<circle cx="470.12" cy="244.91" r="1.5" fill="none" stroke="#ff0000" stroke-width="0.8"/>
<circle cx="475.04" cy="244.86" r="1.5" fill="none" stroke="#ff0000" stroke-width="0.8"/>
<circle cx="479.95" cy="244.82" r="1.5" fill="none" stroke="#ff0000" stroke-width="0.8"/>
<circle cx="484.87" cy="244.79" r="1.5" fill="none" stroke="#ff0000" stroke-width="0.8"/>
<circle cx="489.78" cy="244.77" r="1.5" fill="none" stroke="#ff0000" stroke-width="0.8"/>
<circle cx="496.37" cy="244.75" r="1.5" fill="none" stroke="#ff0000" stroke-width="0.8"/>
<circle cx="502.96" cy="244.73" r="1.5" fill="none" stroke="#ff0000" stroke-width="0.8"/>
<circle cx="509.55" cy="244.72" r="1.5" fill="none" stroke="#ff0000" stroke-width="0.8"/>
<circle cx="516.13" cy="244.72" r="1.5" fill="none" stroke="#ff0000" stroke-width="0.8"/>
<circle cx="523.06" cy="244.71" r="1.5" fill="none" stroke="#ff0000" stroke-width="0.8"/>
<circle cx="529.99" cy="244.71" r="1.5" fill="none" stroke="#ff0000" stroke-width="0.8"/>
<circle cx="536.92" cy="244.71" r="1.5" fill="none" stroke="#ff0000" stroke-width="0.8"/>
<circle cx="543.84" cy="244.7" r="1.5" fill="none" stroke="#ff0000" stroke-width="0.8"/>
<circle cx="550.77" cy="244.7" r="1.5" fill="none" stroke="#ff0000" stroke-width="0.8"/>
<circle cx="557.7" cy="244.7" r="1.5" fill="none" stroke="#ff0000" stroke-width="0.8"/>
<circle cx="564.63" cy="244.7" r="1.5" fill="none" stroke="#ff0000" stroke-width="0.8"/>
<circle cx="571.55" cy="244.7" r="1.5" fill="none" stroke="#ff0000" stroke-width="0.8"/>
<circle cx="578.38" cy="244.7" r="1.5" fill="none" stroke="#ff0000" stroke-width="0.8"/>
<circle cx="585.21" cy="244.7" r="1.5" fill="none" stroke="#ff0000" stroke-width="0.8"/>
<circle cx="592.04" cy="244.7" r="1.5" fill="none" stroke="#ff0000" stroke-width="0.8"/>
<circle cx="598.87" cy="244.7" r="1.5" fill="none" stroke="#ff0000" stroke-width="0.8"/>
<circle cx="604.93" cy="244.7" r="1.5" fill="none" stroke="#ff0000" stroke-width="0.8"/>
<circle cx="610.98" cy="244.7" r="1.5" fill="none" stroke="#ff0000" stroke-width="0.8"/>
<circle cx="617.04" cy="244.7" r="1.5" fill="none" stroke="#ff0000" stroke-width="0.8"/>
<circle cx="623.1" cy="244.7" r="1.5" fill="none" stroke="#ff0000" stroke-width="0.8"/>
<circle cx="628.66" cy="244.7" r="1.5" fill="none" stroke="#ff0000" stroke-width="0.8"/>
<circle cx="634.22" cy="244.7" r="1.5" fill="none" stroke="#ff0000" stroke-width="0.8"/>
<circle cx="639.79" cy="244.7" r="1.5" fill="none" stroke="#ff0000" stroke-width="0.8"/>
<circle cx="645.35" cy="244.7" r="1.5" fill="none" stroke="#ff0000" stroke-width="0.8"/>
<circle cx="651.26" cy="244.7" r="1.5" fill="none" stroke="#ff0000" stroke-width="0.8"/>
<circle cx="657.17" cy="244.7" r="1.5" fill="none" stroke="#ff0000" stroke-width="0.8"/>
<circle cx="663.08" cy="244.7" r="1.5" fill="none" stroke="#ff0000" stroke-width="0.8"/>
<circle cx="668.99" cy="244.7" r="1.5" fill="none" stroke="#ff0000" stroke-width="0.8"/>
<circle cx="671.76" cy="244.7" r="1.5" fill="none" stroke="#ff0000" stroke-width="0.8"/>
<circle cx="674.54" cy="244.7" r="1.5" fill="none" stroke="#ff0000" stroke-width="0.8"/>
<circle cx="677.32" cy="244.7" r="1.5" fill="none" stroke="#ff0000" stroke-width="0.8"/>
<circle cx="680.1" cy="244.7" r="1.5" fill="none" stroke="#ff0000" stroke-width="0.8"/>
<polyline points="403,263.54 405.26,262.2 407.53,260.66 409.79,259 412.05,257.29 415.45,254.81 418.85,252.54 422.24,250.6 425.64,249.03 429.55,247.62 433.46,246.61 437.37,245.95 441.28,245.53 444.58,245.26 447.87,245.07 451.16,244.95 454.45,244.88 458.37,244.8 462.29,244.76 466.21,244.74 470.12,244.73 475.04,244.71 479.95,244.7 484.87,244.71 489.78,244.71 496.37,244.7 502.96,244.69 509.55,244.7 516.13,244.71 523.06,244.69 529.99,244.69 536.92,244.71 543.84,244.72 550.77,244.69 557.7,244.68 564.63,244.71 571.55,244.73 578.38,244.68 585.21,244.66 592.04,244.72 598.87,244.75 604.93,244.7 610.98,244.68 617.04,244.72 623.1,244.74 628.66,244.71 634.22,244.69 639.79,244.71 645.35,244.72 651.26,244.7 657.17,244.69 663.08,244.71 668.99,244.71 671.76,244.71 674.54,244.71 677.32,244.7 680.1,244.7" fill="none" stroke="#ff0000" stroke-width="0.75"/>
<polygon points="403,261.41 401.05,264.61 404.95,264.61" fill="none" stroke="#ff0000" stroke-width="0.8" stroke-linejoin="miter"/>
<polygon points="405.26,260.07 403.31,263.27 407.21,263.27" fill="none" stroke="#ff0000" stroke-width="0.8" stroke-linejoin="miter"/>
<polygon points="407.53,258.52 405.58,261.72 409.48,261.72" fill="none" stroke="#ff0000" stroke-width="0.8" stroke-linejoin="miter"/>
<polygon points="409.79,256.86 407.84,260.06 411.74,260.06" fill="none" stroke="#ff0000" stroke-width="0.8" stroke-linejoin="miter"/>
<polygon points="412.05,255.16 410.1,258.36 414,258.36" fill="none" stroke="#ff0000" stroke-width="0.8" stroke-linejoin="miter"/>
<polygon points="415.45,252.67 413.5,255.87 417.4,255.87" fill="none" stroke="#ff0000" stroke-width="0.8" stroke-linejoin="miter"/>
<polygon points="418.85,250.41 416.9,253.61 420.8,253.61" fill="none" stroke="#ff0000" stroke-width="0.8" stroke-linejoin="miter"/>
<polygon points="422.24,248.47 420.29,251.67 424.19,251.67" fill="none" stroke="#ff0000" stroke-width="0.8" stroke-linejoin="miter"/>
<polygon points="425.64,246.89 423.69,250.09 427.59,250.09" fill="none" stroke="#ff0000" stroke-width="0.8" stroke-linejoin="miter"/>
<polygon points="429.55,245.49 427.6,248.69 431.5,248.69" fill="none" stroke="#ff0000" stroke-width="0.8" stroke-linejoin="miter"/>
<polygon points="433.46,244.48 431.51,247.68 435.41,247.68" fill="none" stroke="#ff0000" stroke-width="0.8" stroke-linejoin="miter"/>
<polygon points="437.37,243.82 435.42,247.02 439.32,247.02" fill="none" stroke="#ff0000" stroke-width="0.8" stroke-linejoin="miter"/>
<polygon points="441.28,243.39 439.33,246.59 443.23,246.59" fill="none" stroke="#ff0000" stroke-width="0.8" stroke-linejoin="miter"/>
<polygon points="444.58,243.12 442.63,246.32 446.53,246.32" fill="none" stroke="#ff0000" stroke-width="0.8" stroke-linejoin="miter"/>
<polygon points="447.87,242.94 445.92,246.14 449.82,246.14" fill="none" stroke="#ff0000" stroke-width="0.8" stroke-linejoin="miter"/>
<polygon points="451.16,242.82 449.21,246.02 453.11,246.02" fill="none" stroke="#ff0000" stroke-width="0.8" stroke-linejoin="miter"/>
<polygon points="454.45,242.74 452.5,245.94 456.4,245.94" fill="none" stroke="#ff0000" stroke-width="0.8" stroke-linejoin="miter"/>
<polygon points="458.37,242.67 456.42,245.87 460.32,245.87" fill="none" stroke="#ff0000" stroke-width="0.8" stroke-linejoin="miter"/>
<polygon points="462.29,242.63 460.34,245.83 464.24,245.83" fill="none" stroke="#ff0000" stroke-width="0.8" stroke-linejoin="miter"/>
<polygon points="466.21,242.61 464.26,245.81 468.16,245.81" fill="none" stroke="#ff0000" stroke-width="0.8" stroke-linejoin="miter"/>
<polygon points="470.12,242.6 468.17,245.8 472.07,245.8" fill="none" stroke="#ff0000" stroke-width="0.8" stroke-linejoin="miter"/>
<polygon points="475.04,242.58 473.09,245.78 476.99,245.78" fill="none" stroke="#ff0000" stroke-width="0.8" stroke-linejoin="miter"/>
<polygon points="479.95,242.57 478,245.77 481.9,245.77" fill="none" stroke="#ff0000" stroke-width="0.8" stroke-linejoin="miter"/>
<polygon points="484.87,242.57 482.92,245.77 486.82,245.77" fill="none" stroke="#ff0000" stroke-width="0.8" stroke-linejoin="miter"/>
<polygon points="489.78,242.57 487.83,245.77 491.73,245.77" fill="none" stroke="#ff0000" stroke-width="0.8" stroke-linejoin="miter"/>
<polygon points="496.37,242.56 494.42,245.76 498.32,245.76" fill="none" stroke="#ff0000" stroke-width="0.8" stroke-linejoin="miter"/>
<polygon points="502.96,242.56 501.01,245.76 504.91,245.76" fill="none" stroke="#ff0000" stroke-width="0.8" stroke-linejoin="miter"/>
<polygon points="509.55,242.57 507.6,245.77 511.5,245.77" fill="none" stroke="#ff0000" stroke-width="0.8" stroke-linejoin="miter"/>
<polygon points="516.13,242.58 514.18,245.78 518.08,245.78" fill="none" stroke="#ff0000" stroke-width="0.8" stroke-linejoin="miter"/>
<polygon points="523.06,242.56 521.11,245.76 525.01,245.76" fill="none" stroke="#ff0000" stroke-width="0.8" stroke-linejoin="miter"/>
<polygon points="529.99,242.55 528.04,245.75 531.94,245.75" fill="none" stroke="#ff0000" stroke-width="0.8" stroke-linejoin="miter"/>
<polygon points="536.92,242.57 534.97,245.77 538.87,245.77" fill="none" stroke="#ff0000" stroke-width="0.8" stroke-linejoin="miter"/>
<polygon points="543.84,242.58 541.89,245.78 545.79,245.78" fill="none" stroke="#ff0000" stroke-width="0.8" stroke-linejoin="miter"/>
<polygon points="550.77,242.55 548.82,245.75 552.72,245.75" fill="none" stroke="#ff0000" stroke-width="0.8" stroke-linejoin="miter"/>
<polygon points="557.7,242.55 555.75,245.75 559.65,245.75" fill="none" stroke="#ff0000" stroke-width="0.8" stroke-linejoin="miter"/>
<polygon points="564.63,242.58 562.68,245.78 566.58,245.78" fill="none" stroke="#ff0000" stroke-width="0.8" stroke-linejoin="miter"/>
<polygon points="571.55,242.6 569.6,245.8 573.5,245.8" fill="none" stroke="#ff0000" stroke-width="0.8" stroke-linejoin="miter"/>
<polygon points="578.38,242.55 576.43,245.75 580.33,245.75" fill="none" stroke="#ff0000" stroke-width="0.8" stroke-linejoin="miter"/>
<polygon points="585.21,242.53 583.26,245.73 587.16,245.73" fill="none" stroke="#ff0000" stroke-width="0.8" stroke-linejoin="miter"/>
<polygon points="592.04,242.59 590.09,245.79 593.99,245.79" fill="none" stroke="#ff0000" stroke-width="0.8" stroke-linejoin="miter"/>
<polygon points="598.87,242.62 596.92,245.82 600.82,245.82" fill="none" stroke="#ff0000" stroke-width="0.8" stroke-linejoin="miter"/>
<polygon points="604.93,242.56 602.98,245.76 606.88,245.76" fill="none" stroke="#ff0000" stroke-width="0.8" stroke-linejoin="miter"/>
<polygon points="610.98,242.54 609.03,245.74 612.93,245.74" fill="none" stroke="#ff0000" stroke-width="0.8" stroke-linejoin="miter"/>
<polygon points="617.04,242.58 615.09,245.78 618.99,245.78" fill="none" stroke="#ff0000" stroke-width="0.8" stroke-linejoin="miter"/>
<polygon points="623.1,242.61 621.15,245.81 625.05,245.81" fill="none" stroke="#ff0000" stroke-width="0.8" stroke-linejoin="miter"/>
<polygon points="628.66,242.57 626.71,245.77 630.61,245.77" fill="none" stroke="#ff0000" stroke-width="0.8" stroke-linejoin="miter"/>
<polygon points="634.22,242.56 632.27,245.76 636.17,245.76" fill="none" stroke="#ff0000" stroke-width="0.8" stroke-linejoin="miter"/>
<polygon points="639.79,242.58 637.84,245.78 641.74,245.78" fill="none" stroke="#ff0000" stroke-width="0.8" stroke-linejoin="miter"/>
<polygon points="645.35,242.59 643.4,245.79 647.3,245.79" fill="none" stroke="#ff0000" stroke-width="0.8" stroke-linejoin="miter"/>
<polygon points="651.26,242.57 649.31,245.77 653.21,245.77" fill="none" stroke="#ff0000" stroke-width="0.8" stroke-linejoin="miter"/>
<polygon points="657.17,242.56 655.22,245.76 659.12,245.76" fill="none" stroke="#ff0000" stroke-width="0.8" stroke-linejoin="miter"/>
<polygon points="663.08,242.57 661.13,245.77 665.03,245.77" fill="none" stroke="#ff0000" stroke-width="0.8" stroke-linejoin="miter"/>
<polygon points="668.99,242.58 667.04,245.78 670.94,245.78" fill="none" stroke="#ff0000" stroke-width="0.8" stroke-linejoin="miter"/>
<polygon points="671.76,242.58 669.81,245.78 673.71,245.78" fill="none" stroke="#ff0000" stroke-width="0.8" stroke-linejoin="miter"/>
<polygon points="674.54,242.57 672.59,245.77 676.49,245.77" fill="none" stroke="#ff0000" stroke-width="0.8" stroke-linejoin="miter"/>
<polygon points="677.32,242.57 675.37,245.77 679.27,245.77" fill="none" stroke="#ff0000" stroke-width="0.8" stroke-linejoin="miter"/>
<polygon points="680.1,242.57 678.15,245.77 682.05,245.77" fill="none" stroke="#ff0000" stroke-width="0.8" stroke-linejoin="miter"/>
<polyline points="403,263.54 405.26,261.77 407.53,260.14 409.79,258.66 412.05,257.3 415.45,255.5 418.85,253.94 422.24,252.61 425.64,251.46 429.55,250.33 433.46,249.39 437.37,248.61 441.28,247.95 444.58,247.48 447.87,247.08 451.16,246.73 454.45,246.44 458.37,246.14 462.29,245.89 466.21,245.69 470.12,245.52 475.04,245.35 479.95,245.21 484.87,245.1 489.78,245.02 496.37,244.93 502.96,244.87 509.55,244.82 516.13,244.79 523.06,244.76 529.99,244.74 536.92,244.73 543.84,244.72 550.77,244.72 557.7,244.71 564.63,244.71 571.55,244.71 578.38,244.7 585.21,244.7 592.04,244.7 598.87,244.7 604.93,244.7 610.98,244.7 617.04,244.7 623.1,244.7 628.66,244.7 634.22,244.7 639.79,244.7 645.35,244.7 651.26,244.7 657.17,244.7 663.08,244.7 668.99,244.7 671.76,244.7 674.54,244.7 677.32,244.7 680.1,244.7" fill="none" stroke="#ff0000" stroke-width="0.75"/>
<rect x="644.5" y="249.3" width="28.5" height="23.399999999999977" fill="#fff" stroke="#6a6a6a" stroke-width="0.6"/>
<line x1="646.5" y1="254.15" x2="666.3" y2="254.15" stroke="#ff0000" stroke-width="0.85" />
<circle cx="656.5" cy="254.15" r="1.5" fill="none" stroke="#ff0000" stroke-width="0.8"/>
<text x="668.3" y="256.65" font-family="'Liberation Sans', sans-serif" font-size="6.5" fill="#222">x</text>
<line x1="646.5" y1="261.05" x2="666.3" y2="261.05" stroke="#ff0000" stroke-width="0.85" />
<polygon points="656.5,258.91 654.55,262.11 658.45,262.11" fill="none" stroke="#ff0000" stroke-width="0.8" stroke-linejoin="miter"/>
<text x="668.3" y="263.55" font-family="'Liberation Sans', sans-serif" font-size="6.5" fill="#222">y</text>
<line x1="646.5" y1="268.41" x2="666.3" y2="268.41" stroke="#ff0000" stroke-width="0.85" />
<text x="668.3" y="270.91" font-family="'Liberation Sans', sans-serif" font-size="6.5" fill="#222">z</text>
</svg>
</body></html>
